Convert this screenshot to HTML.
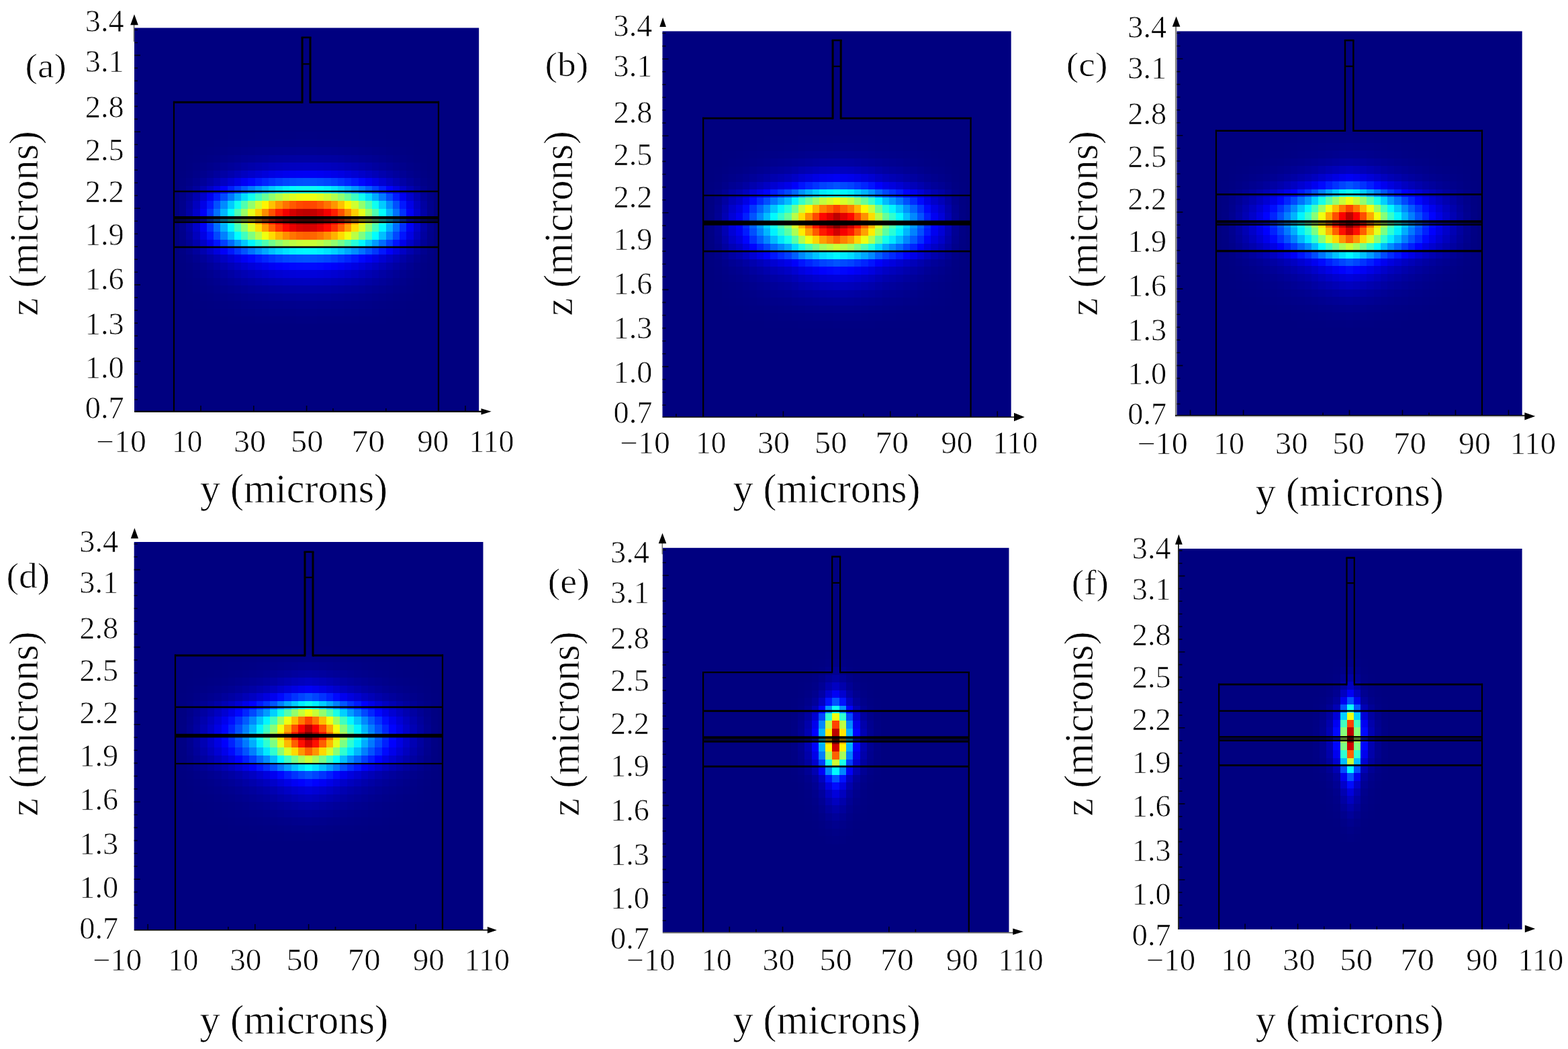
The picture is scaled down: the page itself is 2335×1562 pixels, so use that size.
<!DOCTYPE html>
<html><head><meta charset="utf-8"><title>Mode profiles</title>
<style>
html,body{margin:0;padding:0;background:#fff;width:2335px;height:1562px;overflow:hidden}
svg{display:block}
.t{font-family:"Liberation Serif","Times New Roman",serif;fill:#000;stroke:#fff;stroke-width:0.7px;paint-order:normal}
</style></head><body>
<svg width="2335" height="1562" viewBox="0 0 2335 1562">
<rect width="2335" height="1562" fill="#fff"/>
<g id="pa">
<rect x="200.00" y="41.50" width="513.20" height="571.00" fill="#000080"/>
<clipPath id="ca"><rect x="200.00" y="41.50" width="513.20" height="571.00"/></clipPath>
<g clip-path="url(#ca)"><path fill="#000081" d="M339 196h41v12h-41zM534 196h41v12h-41zM298 208h20v11h-20zM595 208h21v11h-21zM287 219h11v12h-11zM616 219h10v12h-10zM277 231h10v11h-10zM626 231h10v11h-10zM267 254h10v11h-10zM636 254h10v11h-10zM256 288h11v11h-11zM646 288h11v11h-11zM256 299h11v12h-11zM646 299h11v12h-11zM256 311h11v11h-11zM646 311h11v11h-11zM256 322h11v12h-11zM646 322h11v12h-11zM256 334h11v11h-11zM646 334h11v11h-11zM256 345h11v12h-11zM646 345h11v12h-11zM267 402h10v12h-10zM636 402h10v12h-10zM277 425h10v12h-10zM626 425h10v12h-10zM277 437h21v11h-21zM616 437h20v11h-20zM287 448h21v12h-21zM605 448h21v12h-21zM308 460h20v11h-20zM585 460h20v11h-20zM339 471h41v11h-41zM534 471h41v11h-41z"/>
<path fill="#000082" d="M380 196h61v12h-61zM472 196h62v12h-62zM318 208h21v11h-21zM575 208h20v11h-20zM298 219h10v12h-10zM605 219h11v12h-11zM287 231h11v11h-11zM616 231h10v11h-10zM277 242h10v12h-10zM626 242h10v12h-10zM267 391h10v11h-10zM636 391h10v11h-10zM277 414h10v11h-10zM626 414h10v11h-10zM308 448h10v12h-10zM595 448h10v12h-10zM328 460h21v11h-21zM564 460h21v11h-21zM380 471h61v11h-61zM472 471h62v11h-62z"/>
<path fill="#000083" d="M441 196h31v12h-31zM339 208h20v11h-20zM554 208h21v11h-21zM308 219h10v12h-10zM595 219h10v12h-10zM267 265h10v12h-10zM636 265h10v12h-10zM267 379h10v12h-10zM636 379h10v12h-10zM277 402h10v12h-10zM626 402h10v12h-10zM287 425h11v12h-11zM616 425h10v12h-10zM298 437h10v11h-10zM605 437h11v11h-11zM318 448h10v12h-10zM585 448h10v12h-10zM349 460h10v11h-10zM554 460h10v11h-10zM441 471h31v11h-31z"/>
<path fill="#000084" d="M359 208h10v11h-10zM544 208h10v11h-10zM318 219h10v12h-10zM585 219h10v12h-10zM298 231h10v11h-10zM605 231h11v11h-11zM277 254h10v11h-10zM626 254h10v11h-10zM287 414h11v11h-11zM616 414h10v11h-10zM308 437h10v11h-10zM595 437h10v11h-10zM328 448h11v12h-11zM575 448h10v12h-10zM359 460h21v11h-21zM534 460h20v11h-20z"/>
<path fill="#000085" d="M369 208h21v11h-21zM523 208h21v11h-21zM328 219h11v12h-11zM575 219h10v12h-10zM287 242h11v12h-11zM616 242h10v12h-10zM267 277h10v11h-10zM636 277h10v11h-10zM267 368h10v11h-10zM636 368h10v11h-10zM277 391h10v11h-10zM626 391h10v11h-10zM298 425h10v12h-10zM605 425h11v12h-11zM339 448h10v12h-10zM564 448h11v12h-11zM380 460h20v11h-20zM513 460h21v11h-21z"/>
<path fill="#000086" d="M390 208h20v11h-20zM503 208h20v11h-20zM308 231h10v11h-10zM595 231h10v11h-10zM318 437h10v11h-10zM585 437h10v11h-10zM349 448h10v12h-10zM554 448h10v12h-10zM400 460h41v11h-41zM472 460h41v11h-41z"/>
<path fill="#000087" d="M410 208h31v11h-31zM472 208h31v11h-31zM339 219h10v12h-10zM564 219h11v12h-11zM287 402h11v12h-11zM616 402h10v12h-10zM298 414h10v11h-10zM605 414h11v11h-11zM308 425h10v12h-10zM595 425h10v12h-10zM441 460h31v11h-31z"/>
<path fill="#000088" d="M441 208h31v11h-31zM349 219h10v12h-10zM554 219h10v12h-10zM318 231h10v11h-10zM585 231h10v11h-10zM298 242h10v12h-10zM605 242h11v12h-11zM277 265h10v12h-10zM626 265h10v12h-10zM267 357h10v11h-10zM636 357h10v11h-10zM277 379h10v12h-10zM626 379h10v12h-10zM328 437h11v11h-11zM575 437h10v11h-10zM359 448h10v12h-10zM544 448h10v12h-10z"/>
<path fill="#00008a" d="M359 219h10v12h-10zM544 219h10v12h-10zM287 391h11v11h-11zM616 391h10v11h-10zM318 425h10v12h-10zM585 425h10v12h-10zM339 437h10v11h-10zM564 437h11v11h-11zM380 448h10v12h-10zM523 448h11v12h-11z"/>
<path fill="#00008b" d="M369 219h11v12h-11zM534 219h10v12h-10zM328 231h11v11h-11zM575 231h10v11h-10zM267 345h10v12h-10zM636 345h10v12h-10zM298 402h10v12h-10zM605 402h11v12h-11zM308 414h10v11h-10zM595 414h10v11h-10zM390 448h10v12h-10zM513 448h10v12h-10z"/>
<path fill="#00008d" d="M380 219h10v12h-10zM523 219h11v12h-11zM267 311h10v11h-10zM636 311h10v11h-10zM267 334h10v11h-10zM636 334h10v11h-10zM328 425h11v12h-11zM575 425h10v12h-10zM421 448h20v12h-20zM472 448h21v12h-21z"/>
<path fill="#00008e" d="M390 219h10v12h-10zM513 219h10v12h-10zM339 231h10v11h-10zM564 231h11v11h-11zM298 254h10v11h-10zM605 254h11v11h-11zM267 322h10v12h-10zM636 322h10v12h-10zM359 437h10v11h-10zM544 437h10v11h-10zM441 448h31v12h-31z"/>
<path fill="#00008f" d="M400 219h10v12h-10zM503 219h10v12h-10zM277 277h10v11h-10zM626 277h10v11h-10zM277 368h10v11h-10zM626 368h10v11h-10zM318 414h10v11h-10zM585 414h10v11h-10z"/>
<path fill="#000090" d="M410 219h11v12h-11zM493 219h10v12h-10zM318 242h10v12h-10zM585 242h10v12h-10zM287 265h11v12h-11zM616 265h10v12h-10zM287 379h11v12h-11zM616 379h10v12h-10zM308 402h10v12h-10zM595 402h10v12h-10zM339 425h10v12h-10zM564 425h11v12h-11zM369 437h11v11h-11zM534 437h10v11h-10z"/>
<path fill="#000091" d="M421 219h20v12h-20zM472 219h21v12h-21zM349 231h10v11h-10zM554 231h10v11h-10zM298 391h10v11h-10zM605 391h11v11h-11z"/>
<path fill="#000092" d="M441 219h31v12h-31zM380 437h10v11h-10zM523 437h11v11h-11z"/>
<path fill="#000094" d="M359 231h10v11h-10zM544 231h10v11h-10zM328 414h11v11h-11zM575 414h10v11h-10z"/>
<path fill="#000096" d="M369 231h11v11h-11zM534 231h10v11h-10zM318 402h10v12h-10zM585 402h10v12h-10zM359 425h10v12h-10zM544 425h10v12h-10zM410 437h11v11h-11zM493 437h10v11h-10z"/>
<path fill="#000099" d="M380 231h10v11h-10zM523 231h11v11h-11zM308 391h10v11h-10zM595 391h10v11h-10zM339 414h10v11h-10zM564 414h11v11h-11zM441 437h31v11h-31z"/>
<path fill="#00009b" d="M390 231h10v11h-10zM513 231h10v11h-10z"/>
<path fill="#00009e" d="M400 231h10v11h-10zM503 231h10v11h-10zM287 277h11v11h-11zM616 277h10v11h-10zM349 414h10v11h-10zM554 414h10v11h-10z"/>
<path fill="#0000a0" d="M410 231h11v11h-11zM493 231h10v11h-10z"/>
<path fill="#0000a1" d="M421 231h10v11h-10zM482 231h11v11h-11zM277 299h10v12h-10zM626 299h10v12h-10z"/>
<path fill="#0000a2" d="M431 231h10v11h-10zM472 231h10v11h-10zM318 391h10v11h-10zM585 391h10v11h-10zM400 425h10v12h-10zM503 425h10v12h-10z"/>
<path fill="#0000a3" d="M441 231h31v11h-31zM359 414h10v11h-10zM544 414h10v11h-10z"/>
<path fill="#00008c" d="M308 242h10v12h-10zM595 242h10v12h-10zM267 299h10v12h-10zM636 299h10v12h-10zM349 437h10v11h-10zM554 437h10v11h-10zM400 448h21v12h-21zM493 448h20v12h-20z"/>
<path fill="#000095" d="M328 242h11v12h-11zM575 242h10v12h-10zM308 254h10v11h-10zM595 254h10v11h-10zM400 437h10v11h-10zM503 437h10v11h-10z"/>
<path fill="#00009a" d="M339 242h10v12h-10zM564 242h11v12h-11zM298 265h10v12h-10zM605 265h11v12h-11zM298 379h10v12h-10zM605 379h11v12h-11zM369 425h11v12h-11zM534 425h10v12h-10z"/>
<path fill="#00009f" d="M349 242h10v12h-10zM554 242h10v12h-10zM277 345h10v12h-10zM626 345h10v12h-10zM390 425h10v12h-10zM513 425h10v12h-10z"/>
<path fill="#0000a5" d="M359 242h10v12h-10zM544 242h10v12h-10zM328 254h11v11h-11zM575 254h10v11h-10zM277 334h10v11h-10zM626 334h10v11h-10z"/>
<path fill="#0000aa" d="M369 242h11v12h-11zM534 242h10v12h-10z"/>
<path fill="#0000af" d="M380 242h10v12h-10zM523 242h11v12h-11zM298 368h10v11h-10zM605 368h11v11h-11z"/>
<path fill="#0000b3" d="M390 242h10v12h-10zM513 242h10v12h-10zM359 402h10v12h-10zM544 402h10v12h-10z"/>
<path fill="#0000b8" d="M400 242h10v12h-10zM503 242h10v12h-10zM349 254h10v11h-10zM554 254h10v11h-10zM410 414h11v11h-11zM493 414h10v11h-10z"/>
<path fill="#0000bb" d="M410 242h11v12h-11zM493 242h10v12h-10zM421 414h10v11h-10zM482 414h11v11h-11z"/>
<path fill="#0000be" d="M421 242h10v12h-10zM482 242h11v12h-11zM441 414h10v11h-10zM462 414h10v11h-10z"/>
<path fill="#0000c0" d="M431 242h10v12h-10zM472 242h10v12h-10z"/>
<path fill="#0000c1" d="M441 242h10v12h-10zM462 242h10v12h-10zM359 254h10v11h-10zM544 254h10v11h-10zM380 402h10v12h-10zM523 402h11v12h-11z"/>
<path fill="#0000c2" d="M451 242h11v12h-11zM349 391h10v11h-10zM554 391h10v11h-10z"/>
<path fill="#000089" d="M287 254h11v11h-11zM616 254h10v11h-10zM267 288h10v11h-10zM636 288h10v11h-10zM369 448h11v12h-11zM534 448h10v12h-10z"/>
<path fill="#00009d" d="M318 254h10v11h-10zM585 254h10v11h-10zM287 368h11v11h-11zM616 368h10v11h-10zM328 402h11v12h-11zM575 402h10v12h-10zM380 425h10v12h-10zM523 425h11v12h-11z"/>
<path fill="#0000ae" d="M339 254h10v11h-10zM564 254h11v11h-11z"/>
<path fill="#0000ca" d="M369 254h11v11h-11zM534 254h10v11h-10zM287 311h11v11h-11zM616 311h10v11h-10z"/>
<path fill="#0000d3" d="M380 254h10v11h-10zM523 254h11v11h-11zM339 265h10v12h-10zM564 265h11v12h-11zM339 379h10v12h-10zM564 379h11v12h-11z"/>
<path fill="#0000db" d="M390 254h10v11h-10zM513 254h10v11h-10zM441 402h31v12h-31z"/>
<path fill="#0000e3" d="M400 254h10v11h-10zM503 254h10v11h-10z"/>
<path fill="#0000e9" d="M410 254h11v11h-11zM493 254h10v11h-10z"/>
<path fill="#0000ee" d="M421 254h10v11h-10zM482 254h11v11h-11z"/>
<path fill="#0000f2" d="M431 254h10v11h-10zM472 254h10v11h-10zM308 288h10v11h-10zM595 288h10v11h-10z"/>
<path fill="#0000f4" d="M441 254h10v11h-10zM462 254h10v11h-10zM400 391h10v11h-10zM503 391h10v11h-10z"/>
<path fill="#0000f5" d="M451 254h11v11h-11zM359 265h10v12h-10zM544 265h10v12h-10zM298 334h10v11h-10zM605 334h11v11h-11zM359 379h10v12h-10zM544 379h10v12h-10z"/>
<path fill="#0000a6" d="M308 265h10v12h-10zM595 265h10v12h-10zM277 311h10v11h-10zM626 311h10v11h-10zM308 379h10v12h-10zM595 379h10v12h-10zM421 425h10v12h-10zM482 425h11v12h-11z"/>
<path fill="#0000b4" d="M318 265h10v12h-10zM585 265h10v12h-10zM318 379h10v12h-10zM585 379h10v12h-10z"/>
<path fill="#0000c3" d="M328 265h11v12h-11zM575 265h10v12h-10zM328 379h11v12h-11zM575 379h10v12h-10z"/>
<path fill="#0000e4" d="M349 265h10v12h-10zM554 265h10v12h-10zM298 345h10v12h-10zM605 345h11v12h-11zM349 379h10v12h-10zM554 379h10v12h-10z"/>
<path fill="#0006ff" d="M369 265h11v12h-11zM534 265h10v12h-10zM369 379h11v12h-11zM534 379h10v12h-10z"/>
<path fill="#0016ff" d="M380 265h10v12h-10zM523 265h11v12h-11zM380 379h10v12h-10zM523 379h11v12h-11z"/>
<path fill="#0024ff" d="M390 265h10v12h-10zM513 265h10v12h-10zM390 379h10v12h-10zM513 379h10v12h-10z"/>
<path fill="#0031ff" d="M400 265h10v12h-10zM503 265h10v12h-10zM308 311h10v11h-10zM595 311h10v11h-10zM400 379h10v12h-10zM503 379h10v12h-10z"/>
<path fill="#003dff" d="M410 265h11v12h-11zM493 265h10v12h-10zM349 277h10v11h-10zM554 277h10v11h-10zM410 379h11v12h-11zM493 379h10v12h-10z"/>
<path fill="#0046ff" d="M421 265h10v12h-10zM482 265h11v12h-11zM421 379h10v12h-10zM482 379h11v12h-11z"/>
<path fill="#004cff" d="M431 265h10v12h-10zM472 265h10v12h-10zM431 379h10v12h-10zM472 379h10v12h-10z"/>
<path fill="#0050ff" d="M441 265h10v12h-10zM462 265h10v12h-10zM441 379h10v12h-10zM462 379h10v12h-10z"/>
<path fill="#0052ff" d="M451 265h11v12h-11zM451 379h11v12h-11z"/>
<path fill="#0000b1" d="M298 277h10v11h-10zM605 277h11v11h-11zM390 414h10v11h-10zM513 414h10v11h-10z"/>
<path fill="#0000c8" d="M308 277h10v11h-10zM595 277h10v11h-10zM287 334h11v11h-11zM616 334h10v11h-10z"/>
<path fill="#0000e2" d="M318 277h10v11h-10zM585 277h10v11h-10zM380 391h10v11h-10zM523 391h11v11h-11z"/>
<path fill="#0000fe" d="M328 277h11v11h-11zM575 277h10v11h-10z"/>
<path fill="#001eff" d="M339 277h10v11h-10zM564 277h11v11h-11z"/>
<path fill="#005dff" d="M359 277h10v11h-10zM544 277h10v11h-10z"/>
<path fill="#007bff" d="M369 277h11v11h-11zM534 277h10v11h-10z"/>
<path fill="#0099ff" d="M380 277h10v11h-10zM523 277h11v11h-11z"/>
<path fill="#00b4ff" d="M390 277h10v11h-10zM513 277h10v11h-10z"/>
<path fill="#00cdff" d="M400 277h10v11h-10zM503 277h10v11h-10z"/>
<path fill="#00e2ff" d="M410 277h11v11h-11zM493 277h10v11h-10z"/>
<path fill="#00f3ff" d="M421 277h10v11h-10zM482 277h11v11h-11z"/>
<path fill="#00ffff" d="M431 277h10v11h-10zM472 277h10v11h-10z"/>
<path fill="#08fff7" d="M441 277h10v11h-10zM462 277h10v11h-10z"/>
<path fill="#0afff5" d="M451 277h11v11h-11z"/>
<path fill="#000098" d="M277 288h10v11h-10zM626 288h10v11h-10zM421 437h20v11h-20zM472 437h21v11h-21z"/>
<path fill="#0000b0" d="M287 288h11v11h-11zM616 288h10v11h-10z"/>
<path fill="#0000ce" d="M298 288h10v11h-10zM605 288h11v11h-11zM287 322h11v12h-11zM616 322h10v12h-10z"/>
<path fill="#001cff" d="M318 288h10v11h-10zM585 288h10v11h-10z"/>
<path fill="#0049ff" d="M328 288h11v11h-11zM575 288h10v11h-10z"/>
<path fill="#0079ff" d="M339 288h10v11h-10zM564 288h11v11h-11z"/>
<path fill="#00abff" d="M349 288h10v11h-10zM554 288h10v11h-10z"/>
<path fill="#00ddff" d="M359 288h10v11h-10zM544 288h10v11h-10z"/>
<path fill="#0ffff0" d="M369 288h11v11h-11zM534 288h10v11h-10z"/>
<path fill="#3effc1" d="M380 288h10v11h-10zM523 288h11v11h-11z"/>
<path fill="#69ff96" d="M390 288h10v11h-10zM513 288h10v11h-10z"/>
<path fill="#90ff6f" d="M400 288h10v11h-10zM503 288h10v11h-10z"/>
<path fill="#b1ff4e" d="M410 288h11v11h-11zM493 288h10v11h-10z"/>
<path fill="#ccff33" d="M421 288h10v11h-10zM482 288h11v11h-11zM451 357h11v11h-11z"/>
<path fill="#e0ff1f" d="M431 288h10v11h-10zM472 288h10v11h-10z"/>
<path fill="#ecff13" d="M441 288h10v11h-10zM462 288h10v11h-10z"/>
<path fill="#f0ff0f" d="M451 288h11v11h-11z"/>
<path fill="#0000bf" d="M287 299h11v12h-11zM616 299h10v12h-10zM451 414h11v11h-11z"/>
<path fill="#0000e7" d="M298 299h10v12h-10zM605 299h11v12h-11z"/>
<path fill="#0018ff" d="M308 299h10v12h-10zM595 299h10v12h-10z"/>
<path fill="#004fff" d="M318 299h10v12h-10zM585 299h10v12h-10z"/>
<path fill="#008bff" d="M328 299h11v12h-11zM575 299h10v12h-10z"/>
<path fill="#00cbff" d="M339 299h10v12h-10zM564 299h11v12h-11z"/>
<path fill="#0efff1" d="M349 299h10v12h-10zM554 299h10v12h-10z"/>
<path fill="#50ffaf" d="M359 299h10v12h-10zM544 299h10v12h-10z"/>
<path fill="#92ff6d" d="M369 299h11v12h-11zM534 299h10v12h-10z"/>
<path fill="#d0ff2f" d="M380 299h10v12h-10zM523 299h11v12h-11z"/>
<path fill="#fff500" d="M390 299h10v12h-10zM513 299h10v12h-10z"/>
<path fill="#ffc100" d="M400 299h10v12h-10zM503 299h10v12h-10z"/>
<path fill="#ff9500" d="M410 299h11v12h-11zM493 299h10v12h-10z"/>
<path fill="#ff7200" d="M421 299h10v12h-10zM482 299h11v12h-11z"/>
<path fill="#ff5800" d="M431 299h10v12h-10zM472 299h10v12h-10z"/>
<path fill="#ff4800" d="M441 299h10v12h-10zM462 299h10v12h-10z"/>
<path fill="#ff4200" d="M451 299h11v12h-11z"/>
<path fill="#0000f8" d="M298 311h10v11h-10zM605 311h11v11h-11z"/>
<path fill="#0070ff" d="M318 311h10v11h-10zM585 311h10v11h-10z"/>
<path fill="#00b6ff" d="M328 311h11v11h-11zM575 311h10v11h-10z"/>
<path fill="#01fffe" d="M339 311h10v11h-10zM564 311h11v11h-11z"/>
<path fill="#4effb1" d="M349 311h10v11h-10zM554 311h10v11h-10z"/>
<path fill="#9bff64" d="M359 311h10v11h-10zM544 311h10v11h-10z"/>
<path fill="#e6ff19" d="M369 311h11v11h-11zM534 311h10v11h-10z"/>
<path fill="#ffd000" d="M380 311h10v11h-10zM523 311h11v11h-11z"/>
<path fill="#ff8d00" d="M390 311h10v11h-10zM513 311h10v11h-10z"/>
<path fill="#ff5100" d="M400 311h10v11h-10zM503 311h10v11h-10z"/>
<path fill="#ff1e00" d="M410 311h11v11h-11zM493 311h10v11h-10z"/>
<path fill="#f40000" d="M421 311h10v11h-10zM482 311h11v11h-11z"/>
<path fill="#d50000" d="M431 311h10v11h-10zM472 311h10v11h-10z"/>
<path fill="#c30000" d="M441 311h10v11h-10zM462 311h10v11h-10z"/>
<path fill="#bd0000" d="M451 311h11v11h-11z"/>
<path fill="#0000a8" d="M277 322h10v12h-10zM626 322h10v12h-10zM369 414h11v11h-11zM534 414h10v11h-10zM441 425h31v12h-31z"/>
<path fill="#0001ff" d="M298 322h10v12h-10zM605 322h11v12h-11z"/>
<path fill="#003cff" d="M308 322h10v12h-10zM595 322h10v12h-10z"/>
<path fill="#007fff" d="M318 322h10v12h-10zM585 322h10v12h-10z"/>
<path fill="#00caff" d="M328 322h11v12h-11zM575 322h10v12h-10z"/>
<path fill="#19ffe6" d="M339 322h10v12h-10zM564 322h11v12h-11z"/>
<path fill="#6bff94" d="M349 322h10v12h-10zM554 322h10v12h-10z"/>
<path fill="#bdff42" d="M359 322h10v12h-10zM544 322h10v12h-10zM431 357h10v11h-10zM472 357h10v11h-10z"/>
<path fill="#fff100" d="M369 322h11v12h-11zM534 322h10v12h-10z"/>
<path fill="#ffa400" d="M380 322h10v12h-10zM523 322h11v12h-11z"/>
<path fill="#ff5d00" d="M390 322h10v12h-10zM513 322h10v12h-10z"/>
<path fill="#ff1d00" d="M400 322h10v12h-10zM503 322h10v12h-10z"/>
<path fill="#e60000" d="M410 322h11v12h-11zM493 322h10v12h-10z"/>
<path fill="#ba0000" d="M421 322h10v12h-10zM482 322h11v12h-11z"/>
<path fill="#9a0000" d="M431 322h10v12h-10zM472 322h10v12h-10z"/>
<path fill="#860000" d="M441 322h10v12h-10zM462 322h10v12h-10z"/>
<path fill="#800000" d="M451 322h11v12h-11z"/>
<path fill="#002dff" d="M308 334h10v11h-10zM595 334h10v11h-10z"/>
<path fill="#006bff" d="M318 334h10v11h-10zM585 334h10v11h-10zM339 357h10v11h-10zM564 357h11v11h-11z"/>
<path fill="#00afff" d="M328 334h11v11h-11zM575 334h10v11h-10z"/>
<path fill="#00f8ff" d="M339 334h10v11h-10zM564 334h11v11h-11z"/>
<path fill="#44ffbb" d="M349 334h10v11h-10zM554 334h10v11h-10z"/>
<path fill="#8fff70" d="M359 334h10v11h-10zM544 334h10v11h-10z"/>
<path fill="#d9ff26" d="M369 334h11v11h-11zM534 334h10v11h-10z"/>
<path fill="#ffde00" d="M380 334h10v11h-10zM523 334h11v11h-11z"/>
<path fill="#ff9d00" d="M390 334h10v11h-10zM513 334h10v11h-10z"/>
<path fill="#ff6200" d="M400 334h10v11h-10zM503 334h10v11h-10z"/>
<path fill="#ff3000" d="M410 334h11v11h-11zM493 334h10v11h-10z"/>
<path fill="#ff0800" d="M421 334h10v11h-10zM482 334h11v11h-11z"/>
<path fill="#e90000" d="M431 334h10v11h-10zM472 334h10v11h-10z"/>
<path fill="#d70000" d="M441 334h10v11h-10zM462 334h10v11h-10z"/>
<path fill="#d10000" d="M451 334h11v11h-11z"/>
<path fill="#0000bd" d="M287 345h11v12h-11zM616 345h10v12h-10zM431 414h10v11h-10zM472 414h10v11h-10z"/>
<path fill="#0013ff" d="M308 345h10v12h-10zM595 345h10v12h-10zM318 357h10v11h-10zM585 357h10v11h-10z"/>
<path fill="#0047ff" d="M318 345h10v12h-10zM585 345h10v12h-10z"/>
<path fill="#0081ff" d="M328 345h11v12h-11zM575 345h10v12h-10z"/>
<path fill="#00bfff" d="M339 345h10v12h-10zM564 345h11v12h-11z"/>
<path fill="#00feff" d="M349 345h10v12h-10zM554 345h10v12h-10z"/>
<path fill="#3fffc0" d="M359 345h10v12h-10zM544 345h10v12h-10z"/>
<path fill="#7eff81" d="M369 345h11v12h-11zM534 345h10v12h-10z"/>
<path fill="#baff45" d="M380 345h10v12h-10zM523 345h11v12h-11z"/>
<path fill="#f1ff0e" d="M390 345h10v12h-10zM513 345h10v12h-10z"/>
<path fill="#ffdb00" d="M400 345h10v12h-10zM503 345h10v12h-10z"/>
<path fill="#ffb100" d="M410 345h11v12h-11zM493 345h10v12h-10z"/>
<path fill="#ff8e00" d="M421 345h10v12h-10zM482 345h11v12h-11z"/>
<path fill="#ff7500" d="M431 345h10v12h-10zM472 345h10v12h-10z"/>
<path fill="#ff6600" d="M441 345h10v12h-10zM462 345h10v12h-10z"/>
<path fill="#ff6100" d="M451 345h11v12h-11z"/>
<path fill="#000097" d="M277 357h10v11h-10zM626 357h10v11h-10z"/>
<path fill="#0000ad" d="M287 357h11v11h-11zM616 357h10v11h-10zM380 414h10v11h-10zM523 414h11v11h-11z"/>
<path fill="#0000c9" d="M298 357h10v11h-10zM605 357h11v11h-11z"/>
<path fill="#0000eb" d="M308 357h10v11h-10zM595 357h10v11h-10zM390 391h10v11h-10zM513 391h10v11h-10z"/>
<path fill="#003eff" d="M328 357h11v11h-11zM575 357h10v11h-10z"/>
<path fill="#009aff" d="M349 357h10v11h-10zM554 357h10v11h-10z"/>
<path fill="#00c9ff" d="M359 357h10v11h-10zM544 357h10v11h-10z"/>
<path fill="#00f7ff" d="M369 357h11v11h-11zM534 357h10v11h-10zM441 368h10v11h-10zM462 368h10v11h-10z"/>
<path fill="#24ffdb" d="M380 357h10v11h-10zM523 357h11v11h-11z"/>
<path fill="#4dffb2" d="M390 357h10v11h-10zM513 357h10v11h-10z"/>
<path fill="#72ff8d" d="M400 357h10v11h-10zM503 357h10v11h-10z"/>
<path fill="#91ff6e" d="M410 357h11v11h-11zM493 357h10v11h-10z"/>
<path fill="#aaff55" d="M421 357h10v11h-10zM482 357h11v11h-11z"/>
<path fill="#c8ff37" d="M441 357h10v11h-10zM462 357h10v11h-10z"/>
<path fill="#0000c5" d="M308 368h10v11h-10zM595 368h10v11h-10z"/>
<path fill="#0000de" d="M318 368h10v11h-10zM585 368h10v11h-10z"/>
<path fill="#0000f9" d="M328 368h11v11h-11zM575 368h10v11h-10z"/>
<path fill="#0017ff" d="M339 368h10v11h-10zM564 368h11v11h-11z"/>
<path fill="#0036ff" d="M349 368h10v11h-10zM554 368h10v11h-10z"/>
<path fill="#0054ff" d="M359 368h10v11h-10zM544 368h10v11h-10z"/>
<path fill="#0072ff" d="M369 368h11v11h-11zM534 368h10v11h-10z"/>
<path fill="#008eff" d="M380 368h10v11h-10zM523 368h11v11h-11z"/>
<path fill="#00a8ff" d="M390 368h10v11h-10zM513 368h10v11h-10z"/>
<path fill="#00c0ff" d="M400 368h10v11h-10zM503 368h10v11h-10z"/>
<path fill="#00d4ff" d="M410 368h11v11h-11zM493 368h10v11h-10z"/>
<path fill="#00e4ff" d="M421 368h10v11h-10zM482 368h11v11h-11z"/>
<path fill="#00f0ff" d="M431 368h10v11h-10zM472 368h10v11h-10z"/>
<path fill="#00faff" d="M451 368h11v11h-11z"/>
<path fill="#0000ac" d="M328 391h11v11h-11zM575 391h10v11h-10zM349 402h10v12h-10zM554 402h10v12h-10z"/>
<path fill="#0000b7" d="M339 391h10v11h-10zM564 391h11v11h-11z"/>
<path fill="#0000cd" d="M359 391h10v11h-10zM544 391h10v11h-10zM400 402h10v12h-10zM503 402h10v12h-10z"/>
<path fill="#0000d8" d="M369 391h11v11h-11zM534 391h10v11h-10z"/>
<path fill="#0000fb" d="M410 391h11v11h-11zM493 391h10v11h-10z"/>
<path fill="#0002ff" d="M421 391h10v11h-10zM482 391h11v11h-11z"/>
<path fill="#0007ff" d="M431 391h10v11h-10zM472 391h10v11h-10z"/>
<path fill="#0009ff" d="M441 391h10v11h-10zM462 391h10v11h-10z"/>
<path fill="#000aff" d="M451 391h11v11h-11z"/>
<path fill="#0000a4" d="M339 402h10v12h-10zM564 402h11v12h-11zM410 425h11v12h-11zM493 425h10v12h-10z"/>
<path fill="#0000ba" d="M369 402h11v12h-11zM534 402h10v12h-10z"/>
<path fill="#0000c7" d="M390 402h10v12h-10zM513 402h10v12h-10z"/>
<path fill="#0000d2" d="M410 402h11v12h-11zM493 402h10v12h-10z"/>
<path fill="#0000d6" d="M421 402h10v12h-10zM482 402h11v12h-11z"/>
<path fill="#0000d9" d="M431 402h10v12h-10zM472 402h10v12h-10z"/>
<path fill="#0000b5" d="M400 414h10v11h-10zM503 414h10v11h-10z"/>
<path fill="#000093" d="M349 425h10v12h-10zM554 425h10v12h-10zM390 437h10v11h-10zM513 437h10v11h-10z"/>
<path fill="#0000a7" d="M431 425h10v12h-10zM472 425h10v12h-10z"/></g>
<path d="M200.0 44.5h5M200.0 63.5h5M200.0 82.4h9M200.0 101.4h5M200.0 120.4h5M200.0 139.4h5M200.0 158.4h5M200.0 177.4h5M200.0 196.3h9M200.0 215.3h5M200.0 234.3h5M200.0 253.3h5M200.0 272.3h5M200.0 291.3h5M200.0 310.2h9M200.0 329.2h5M200.0 348.2h5M200.0 367.2h5M200.0 386.2h5M200.0 405.2h5M200.0 424.1h9M200.0 443.1h5M200.0 462.1h5M200.0 481.1h5M200.0 500.1h5M200.0 519.1h5M200.0 538.0h9M200.0 557.0h5M200.0 576.0h5M200.0 595.0h5M299.0 612.5v-8.5M377.8 612.5v-8.5M456.6 612.5v-8.5M693.0 612.5v-8.5M496.0 612.5v-4.5M574.8 612.5v-4.5" stroke="#000018" stroke-width="1.6" fill="none"/>
<path d="M259.00 612.50V150.70M653.00 612.50V150.70" stroke="#000" stroke-width="2.20" fill="none"/>
<path d="M257.90 152.20H450.10M462.00 152.20H654.10" stroke="#000" stroke-width="3.00" fill="none"/>
<path d="M448.60 55.80H463.50" stroke="#000" stroke-width="2.60" fill="none"/>
<path d="M450.10 95.30H462.00" stroke="#000" stroke-width="2.20" fill="none"/>
<path d="M450.10 153.70V55.80M462.00 153.70V55.80" stroke="#000" stroke-width="3.00" fill="none"/>
<rect x="259.00" y="283.80" width="394.00" height="2.40" fill="#000"/>
<rect x="259.00" y="322.00" width="394.00" height="4.00" fill="#000"/>
<rect x="259.00" y="329.90" width="394.00" height="2.20" fill="#000"/>
<rect x="259.00" y="366.70" width="394.00" height="2.60" fill="#000"/>
<rect x="259.00" y="326.00" width="394.00" height="4.00" fill="#000" fill-opacity="0.55"/>
<rect x="198.80" y="36.00" width="1.60" height="26.00" fill="#666"/>
<rect x="200.00" y="611.70" width="517.00" height="2.20" fill="#000"/>
<path d="M200.00 21.20L205.80 37.30L194.20 37.30z" fill="#000"/>
<path d="M731.70 612.80L716.50 608.20L716.50 617.40z" fill="#000"/>
<text class="t" x="184.70" y="46.80" font-size="46.35" text-anchor="end">3.4</text>
<text class="t" x="184.70" y="106.80" font-size="46.35" text-anchor="end">3.1</text>
<text class="t" x="184.70" y="175.00" font-size="46.35" text-anchor="end">2.8</text>
<text class="t" x="184.70" y="238.50" font-size="46.35" text-anchor="end">2.5</text>
<text class="t" x="184.70" y="301.30" font-size="46.35" text-anchor="end">2.2</text>
<text class="t" x="184.70" y="365.10" font-size="46.35" text-anchor="end">1.9</text>
<text class="t" x="184.70" y="431.10" font-size="46.35" text-anchor="end">1.6</text>
<text class="t" x="184.70" y="497.50" font-size="46.35" text-anchor="end">1.3</text>
<text class="t" x="184.70" y="562.80" font-size="46.35" text-anchor="end">1.0</text>
<text class="t" x="184.70" y="622.70" font-size="46.35" text-anchor="end">0.7</text>
<text class="t" transform="translate(143.11 673.14) scale(1.0327 1)" font-size="46.35">−10</text>
<text class="t" transform="translate(256.03 673.14) scale(0.9814 1)" font-size="46.35">10</text>
<text class="t" transform="translate(347.99 673.14) scale(1.0384 1)" font-size="46.35">30</text>
<text class="t" transform="translate(433.10 673.14) scale(1.0428 1)" font-size="46.35">50</text>
<text class="t" transform="translate(523.46 673.14) scale(1.0751 1)" font-size="46.35">70</text>
<text class="t" transform="translate(621.29 673.14) scale(1.0161 1)" font-size="46.35">90</text>
<text class="t" transform="translate(698.29 673.14) scale(0.9918 1)" font-size="46.35">110</text>
<text class="t" transform="translate(297.90 748.31) scale(0.9819 1)" font-size="61.33">y (microns)</text>
<text class="t" transform="translate(56.03 470.50) rotate(-90) scale(0.9741 1)" font-size="61.78">z (microns)</text>
<text class="t" transform="translate(37.52 115.27) scale(1.0706 1)" font-size="51.56">(a)</text>
</g>
<g id="pb">
<rect x="986.50" y="46.50" width="519.20" height="574.30" fill="#000080"/>
<clipPath id="cb"><rect x="986.50" y="46.50" width="519.20" height="574.30"/></clipPath>
<g clip-path="url(#cb)"><path fill="#000081" d="M1137 202h52v11h-52zM1303 202h52v11h-52zM1106 213h21v12h-21zM1366 213h20v12h-20zM1075 225h21v11h-21zM1397 225h20v11h-20zM1075 236h10v12h-10zM1407 236h10v12h-10zM1064 248h11v11h-11zM1417 248h11v11h-11zM1054 271h10v11h-10zM1428 271h10v11h-10zM1054 386h10v11h-10zM1428 386h10v11h-10zM1064 420h11v12h-11zM1417 420h11v12h-11zM1075 443h10v12h-10zM1407 443h10v12h-10zM1085 455h21v11h-21zM1386 455h21v11h-21zM1106 466h31v12h-31zM1355 466h31v12h-31zM1137 478h52v11h-52zM1303 478h52v11h-52z"/>
<path fill="#000082" d="M1189 202h52v11h-52zM1251 202h52v11h-52zM1127 213h20v12h-20zM1345 213h21v12h-21zM1096 225h10v11h-10zM1386 225h11v11h-11zM1064 259h11v12h-11zM1417 259h11v12h-11zM1054 282h10v12h-10zM1428 282h10v12h-10zM1054 374h10v12h-10zM1428 374h10v12h-10zM1064 409h11v11h-11zM1417 409h11v11h-11zM1075 432h10v11h-10zM1407 432h10v11h-10zM1085 443h11v12h-11zM1397 443h10v12h-10zM1106 455h10v11h-10zM1376 455h10v11h-10zM1137 466h21v12h-21zM1334 466h21v12h-21zM1189 478h52v11h-52zM1251 478h52v11h-52z"/>
<path fill="#000083" d="M1241 202h10v11h-10zM1147 213h21v12h-21zM1324 213h21v12h-21zM1106 225h10v11h-10zM1376 225h10v11h-10zM1085 236h11v12h-11zM1397 236h10v12h-10zM1075 248h10v11h-10zM1407 248h10v11h-10zM1054 294h10v11h-10zM1428 294h10v11h-10zM1054 363h10v11h-10zM1428 363h10v11h-10zM1064 397h11v12h-11zM1417 397h11v12h-11zM1075 420h10v12h-10zM1407 420h10v12h-10zM1085 432h11v11h-11zM1397 432h10v11h-10zM1096 443h10v12h-10zM1386 443h11v12h-11zM1116 455h21v11h-21zM1355 455h21v11h-21zM1158 466h21v12h-21zM1314 466h20v12h-20zM1241 478h10v11h-10z"/>
<path fill="#000084" d="M1168 213h21v12h-21zM1303 213h21v12h-21zM1116 225h11v11h-11zM1366 225h10v11h-10zM1096 236h10v12h-10zM1386 236h11v12h-11zM1064 271h11v11h-11zM1417 271h11v11h-11zM1054 305h10v12h-10zM1428 305h10v12h-10zM1054 351h10v12h-10zM1428 351h10v12h-10zM1064 386h11v11h-11zM1417 386h11v11h-11zM1096 432h10v11h-10zM1386 432h11v11h-11zM1106 443h10v12h-10zM1376 443h10v12h-10zM1137 455h10v11h-10zM1345 455h10v11h-10zM1179 466h20v12h-20zM1293 466h21v12h-21z"/>
<path fill="#000085" d="M1189 213h10v12h-10zM1293 213h10v12h-10zM1127 225h10v11h-10zM1355 225h11v11h-11zM1106 236h10v12h-10zM1376 236h10v12h-10zM1054 317h10v11h-10zM1428 317h10v11h-10zM1054 340h10v11h-10zM1428 340h10v11h-10zM1075 409h10v11h-10zM1407 409h10v11h-10zM1085 420h11v12h-11zM1397 420h10v12h-10zM1116 443h11v12h-11zM1366 443h10v12h-10zM1147 455h11v11h-11zM1334 455h11v11h-11zM1199 466h11v12h-11zM1282 466h11v12h-11z"/>
<path fill="#000086" d="M1199 213h21v12h-21zM1272 213h21v12h-21zM1137 225h10v11h-10zM1345 225h10v11h-10zM1085 248h11v11h-11zM1397 248h10v11h-10zM1075 259h10v12h-10zM1407 259h10v12h-10zM1054 328h10v12h-10zM1428 328h10v12h-10zM1106 432h10v11h-10zM1376 432h10v11h-10zM1158 455h10v11h-10zM1324 455h10v11h-10zM1210 466h31v12h-31zM1251 466h31v12h-31z"/>
<path fill="#000087" d="M1220 213h21v12h-21zM1251 213h21v12h-21zM1147 225h11v11h-11zM1334 225h11v11h-11zM1116 236h11v12h-11zM1366 236h10v12h-10zM1096 248h10v11h-10zM1386 248h11v11h-11zM1075 397h10v12h-10zM1407 397h10v12h-10zM1096 420h10v12h-10zM1386 420h11v12h-11zM1127 443h10v12h-10zM1355 443h11v12h-11zM1168 455h11v11h-11zM1314 455h10v11h-10zM1241 466h10v12h-10z"/>
<path fill="#000088" d="M1241 213h10v12h-10zM1158 225h10v11h-10zM1324 225h10v11h-10zM1064 282h11v12h-11zM1417 282h11v12h-11zM1064 374h11v12h-11zM1417 374h11v12h-11zM1085 409h11v11h-11zM1397 409h10v11h-10zM1116 432h11v11h-11zM1366 432h10v11h-10zM1137 443h10v12h-10zM1345 443h10v12h-10zM1179 455h10v11h-10zM1303 455h11v11h-11z"/>
<path fill="#000089" d="M1168 225h11v11h-11zM1314 225h10v11h-10zM1127 236h10v12h-10zM1355 236h11v12h-11zM1189 455h10v11h-10zM1293 455h10v11h-10z"/>
<path fill="#00008a" d="M1179 225h10v11h-10zM1303 225h11v11h-11zM1106 248h10v11h-10zM1376 248h10v11h-10zM1085 259h11v12h-11zM1397 259h10v12h-10zM1106 420h10v12h-10zM1376 420h10v12h-10zM1147 443h11v12h-11zM1334 443h11v12h-11z"/>
<path fill="#00008c" d="M1189 225h10v11h-10zM1293 225h10v11h-10zM1064 363h11v11h-11zM1417 363h11v11h-11zM1085 397h11v12h-11zM1397 397h10v12h-10zM1168 443h11v12h-11zM1314 443h10v12h-10zM1210 455h10v11h-10zM1272 455h10v11h-10z"/>
<path fill="#00008e" d="M1199 225h11v11h-11zM1282 225h11v11h-11zM1147 236h11v12h-11zM1334 236h11v12h-11zM1116 248h11v11h-11zM1366 248h10v11h-10zM1096 259h10v12h-10zM1386 259h11v12h-11zM1241 455h10v11h-10z"/>
<path fill="#00008f" d="M1210 225h10v11h-10zM1272 225h10v11h-10zM1106 409h10v11h-10zM1376 409h10v11h-10zM1179 443h10v12h-10zM1303 443h11v12h-11z"/>
<path fill="#000090" d="M1220 225h11v11h-11zM1262 225h10v11h-10zM1158 236h10v12h-10zM1324 236h10v12h-10zM1096 397h10v12h-10zM1386 397h11v12h-11zM1147 432h11v11h-11zM1334 432h11v11h-11z"/>
<path fill="#000091" d="M1231 225h10v11h-10zM1251 225h11v11h-11zM1064 351h11v12h-11zM1417 351h11v12h-11zM1127 420h10v12h-10zM1355 420h11v12h-11zM1189 443h10v12h-10zM1293 443h10v12h-10z"/>
<path fill="#000092" d="M1241 225h10v11h-10zM1168 236h11v12h-11zM1314 236h10v12h-10zM1127 248h10v11h-10zM1355 248h11v11h-11zM1064 305h11v12h-11zM1417 305h11v12h-11zM1158 432h10v11h-10zM1324 432h10v11h-10z"/>
<path fill="#00008b" d="M1137 236h10v12h-10zM1345 236h10v12h-10zM1075 271h10v11h-10zM1407 271h10v11h-10zM1075 386h10v11h-10zM1407 386h10v11h-10zM1096 409h10v11h-10zM1386 409h11v11h-11zM1127 432h10v11h-10zM1355 432h11v11h-11zM1158 443h10v12h-10zM1324 443h10v12h-10zM1199 455h11v11h-11zM1282 455h11v11h-11z"/>
<path fill="#000095" d="M1179 236h10v12h-10zM1303 236h11v12h-11zM1137 248h10v11h-10zM1345 248h10v11h-10zM1075 282h10v12h-10zM1407 282h10v12h-10zM1064 317h11v11h-11zM1417 317h11v11h-11zM1210 443h10v12h-10zM1272 443h10v12h-10z"/>
<path fill="#000098" d="M1189 236h10v12h-10zM1293 236h10v12h-10zM1147 420h11v12h-11zM1334 420h11v12h-11zM1179 432h10v11h-10zM1303 432h11v11h-11zM1231 443h10v12h-10zM1251 443h11v12h-11z"/>
<path fill="#00009b" d="M1199 236h11v12h-11zM1282 236h11v12h-11z"/>
<path fill="#00009e" d="M1210 236h10v12h-10zM1272 236h10v12h-10zM1116 397h11v12h-11zM1366 397h10v12h-10zM1137 409h10v11h-10zM1345 409h10v11h-10z"/>
<path fill="#0000a1" d="M1220 236h11v12h-11zM1262 236h10v12h-10zM1168 248h11v11h-11zM1314 248h10v11h-10z"/>
<path fill="#0000a2" d="M1231 236h10v12h-10zM1251 236h11v12h-11zM1106 271h10v11h-10zM1376 271h10v11h-10zM1075 294h10v11h-10zM1407 294h10v11h-10zM1085 374h11v12h-11zM1397 374h10v12h-10zM1106 386h10v11h-10zM1376 386h10v11h-10zM1210 432h10v11h-10zM1272 432h10v11h-10z"/>
<path fill="#0000a3" d="M1241 236h10v12h-10z"/>
<path fill="#00009a" d="M1147 248h11v11h-11zM1334 248h11v11h-11z"/>
<path fill="#00009d" d="M1158 248h10v11h-10zM1324 248h10v11h-10z"/>
<path fill="#0000a7" d="M1179 248h10v11h-10zM1303 248h11v11h-11zM1231 432h10v11h-10zM1251 432h11v11h-11z"/>
<path fill="#0000ae" d="M1189 248h10v11h-10zM1293 248h10v11h-10zM1147 259h11v12h-11zM1334 259h11v12h-11zM1116 271h11v11h-11zM1366 271h10v11h-10zM1116 386h11v11h-11zM1366 386h10v11h-10zM1168 409h11v11h-11zM1314 409h10v11h-10z"/>
<path fill="#0000b3" d="M1199 248h11v11h-11zM1282 248h11v11h-11zM1075 340h10v11h-10zM1407 340h10v11h-10z"/>
<path fill="#0000b8" d="M1210 248h10v11h-10zM1272 248h10v11h-10zM1075 328h10v12h-10zM1407 328h10v12h-10z"/>
<path fill="#0000bd" d="M1220 248h11v11h-11zM1262 248h10v11h-10zM1158 397h10v12h-10zM1324 397h10v12h-10z"/>
<path fill="#0000bf" d="M1231 248h10v11h-10zM1251 248h11v11h-11zM1241 420h10v12h-10z"/>
<path fill="#0000c2" d="M1241 248h10v11h-10z"/>
<path fill="#000093" d="M1106 259h10v12h-10zM1376 259h10v12h-10zM1085 271h11v11h-11zM1397 271h10v11h-10zM1085 386h11v11h-11zM1397 386h10v11h-10zM1199 443h11v12h-11zM1282 443h11v12h-11z"/>
<path fill="#000099" d="M1116 259h11v12h-11zM1366 259h10v12h-10zM1096 271h10v11h-10zM1386 271h11v11h-11zM1096 386h10v11h-10zM1386 386h11v11h-11zM1127 409h10v11h-10zM1355 409h11v11h-11zM1241 443h10v12h-10z"/>
<path fill="#0000a0" d="M1127 259h10v12h-10zM1355 259h11v12h-11zM1075 363h10v11h-10zM1407 363h10v11h-10z"/>
<path fill="#0000a6" d="M1137 259h10v12h-10zM1345 259h10v12h-10z"/>
<path fill="#0000b4" d="M1158 259h10v12h-10zM1324 259h10v12h-10zM1075 317h10v11h-10zM1407 317h10v11h-10z"/>
<path fill="#0000bb" d="M1168 259h11v12h-11zM1314 259h10v12h-10z"/>
<path fill="#0000c5" d="M1179 259h10v12h-10zM1303 259h11v12h-11zM1137 271h10v11h-10zM1345 271h10v11h-10zM1137 386h10v11h-10zM1345 386h10v11h-10zM1168 397h11v12h-11zM1314 397h10v12h-10z"/>
<path fill="#0000d2" d="M1189 259h10v12h-10zM1293 259h10v12h-10zM1147 271h11v11h-11zM1334 271h11v11h-11zM1147 386h11v11h-11zM1334 386h11v11h-11z"/>
<path fill="#0000db" d="M1199 259h11v12h-11zM1282 259h11v12h-11zM1241 409h10v11h-10z"/>
<path fill="#0000e4" d="M1210 259h10v12h-10zM1272 259h10v12h-10z"/>
<path fill="#0000ec" d="M1220 259h11v12h-11zM1262 259h10v12h-10z"/>
<path fill="#0000f0" d="M1231 259h10v12h-10zM1251 259h11v12h-11zM1096 340h10v11h-10zM1386 340h11v11h-11z"/>
<path fill="#0000f5" d="M1241 259h10v12h-10zM1210 397h10v12h-10zM1272 397h10v12h-10z"/>
<path fill="#0000b9" d="M1127 271h10v11h-10zM1355 271h11v11h-11zM1085 294h11v11h-11zM1397 294h10v11h-10zM1127 386h10v11h-10zM1355 386h11v11h-11z"/>
<path fill="#0000de" d="M1158 271h10v11h-10zM1324 271h10v11h-10zM1158 386h10v11h-10zM1324 386h10v11h-10z"/>
<path fill="#0000e9" d="M1168 271h11v11h-11zM1314 271h10v11h-10zM1168 386h11v11h-11zM1314 386h10v11h-10z"/>
<path fill="#0000fb" d="M1179 271h10v11h-10zM1303 271h11v11h-11zM1179 386h10v11h-10zM1303 386h11v11h-11z"/>
<path fill="#0013ff" d="M1189 271h10v11h-10zM1293 271h10v11h-10zM1189 386h10v11h-10zM1293 386h10v11h-10z"/>
<path fill="#0024ff" d="M1199 271h11v11h-11zM1282 271h11v11h-11zM1199 386h11v11h-11zM1282 386h11v11h-11z"/>
<path fill="#0033ff" d="M1210 271h10v11h-10zM1272 271h10v11h-10zM1210 386h10v11h-10zM1272 386h10v11h-10z"/>
<path fill="#0042ff" d="M1220 271h11v11h-11zM1262 271h10v11h-10zM1137 363h10v11h-10zM1345 363h10v11h-10zM1220 386h11v11h-11zM1262 386h10v11h-10z"/>
<path fill="#0049ff" d="M1231 271h10v11h-10zM1251 271h11v11h-11zM1231 386h10v11h-10zM1251 386h11v11h-11z"/>
<path fill="#0052ff" d="M1241 271h10v11h-10zM1241 386h10v11h-10z"/>
<path fill="#0000a4" d="M1085 282h11v12h-11zM1397 282h10v12h-10zM1147 409h11v11h-11zM1334 409h11v11h-11z"/>
<path fill="#0000af" d="M1096 282h10v12h-10zM1386 282h11v12h-11z"/>
<path fill="#0000c0" d="M1106 282h10v12h-10zM1376 282h10v12h-10zM1189 409h10v11h-10zM1293 409h10v11h-10z"/>
<path fill="#0000d6" d="M1116 282h11v12h-11zM1366 282h10v12h-10zM1085 340h11v11h-11zM1397 340h10v11h-10z"/>
<path fill="#0000eb" d="M1127 282h10v12h-10zM1355 282h11v12h-11zM1199 397h11v12h-11zM1282 397h11v12h-11z"/>
<path fill="#0002ff" d="M1137 282h10v12h-10zM1345 282h10v12h-10zM1116 363h11v11h-11zM1366 363h10v11h-10z"/>
<path fill="#001cff" d="M1147 282h11v12h-11zM1334 282h11v12h-11z"/>
<path fill="#0031ff" d="M1158 282h10v12h-10zM1324 282h10v12h-10z"/>
<path fill="#0047ff" d="M1168 282h11v12h-11zM1314 282h10v12h-10z"/>
<path fill="#0068ff" d="M1179 282h10v12h-10zM1303 282h11v12h-11zM1147 363h11v11h-11zM1334 363h11v11h-11z"/>
<path fill="#0093ff" d="M1189 282h10v12h-10zM1293 282h10v12h-10z"/>
<path fill="#00b3ff" d="M1199 282h11v12h-11zM1282 282h11v12h-11z"/>
<path fill="#00d0ff" d="M1210 282h10v12h-10zM1272 282h10v12h-10z"/>
<path fill="#00ecff" d="M1220 282h11v12h-11zM1262 282h10v12h-10z"/>
<path fill="#00f9ff" d="M1231 282h10v12h-10zM1251 282h11v12h-11z"/>
<path fill="#0afff5" d="M1241 282h10v12h-10z"/>
<path fill="#00008d" d="M1064 294h11v11h-11zM1417 294h11v11h-11zM1116 420h11v12h-11zM1366 420h10v12h-10zM1137 432h10v11h-10zM1345 432h10v11h-10zM1220 455h21v11h-21zM1251 455h21v11h-21z"/>
<path fill="#0000ca" d="M1096 294h10v11h-10zM1386 294h11v11h-11z"/>
<path fill="#0000e6" d="M1106 294h10v11h-10zM1376 294h10v11h-10z"/>
<path fill="#0009ff" d="M1116 294h11v11h-11zM1366 294h10v11h-10zM1106 305h10v12h-10zM1376 305h10v12h-10z"/>
<path fill="#002cff" d="M1127 294h10v11h-10zM1355 294h11v11h-11z"/>
<path fill="#004eff" d="M1137 294h10v11h-10zM1345 294h10v11h-10z"/>
<path fill="#0076ff" d="M1147 294h11v11h-11zM1334 294h11v11h-11z"/>
<path fill="#0098ff" d="M1158 294h10v11h-10zM1324 294h10v11h-10z"/>
<path fill="#00bbff" d="M1168 294h11v11h-11zM1314 294h10v11h-10zM1147 351h11v12h-11zM1334 351h11v12h-11z"/>
<path fill="#00f0ff" d="M1179 294h10v11h-10zM1303 294h11v11h-11z"/>
<path fill="#35ffca" d="M1189 294h10v11h-10zM1293 294h10v11h-10z"/>
<path fill="#67ff98" d="M1199 294h11v11h-11zM1282 294h11v11h-11z"/>
<path fill="#95ff6a" d="M1210 294h10v11h-10zM1272 294h10v11h-10z"/>
<path fill="#c1ff3e" d="M1220 294h11v11h-11zM1262 294h10v11h-10z"/>
<path fill="#d7ff28" d="M1231 294h10v11h-10zM1251 294h11v11h-11z"/>
<path fill="#f0ff0f" d="M1241 294h10v11h-10z"/>
<path fill="#0000ad" d="M1075 305h10v12h-10zM1407 305h10v12h-10zM1096 374h10v12h-10zM1386 374h11v12h-11zM1137 397h10v12h-10zM1345 397h10v12h-10z"/>
<path fill="#0000cc" d="M1085 305h11v12h-11zM1397 305h10v12h-10z"/>
<path fill="#0000e3" d="M1096 305h10v12h-10zM1386 305h11v12h-11z"/>
<path fill="#0036ff" d="M1116 305h11v12h-11zM1366 305h10v12h-10z"/>
<path fill="#0064ff" d="M1127 305h10v12h-10zM1355 305h11v12h-11z"/>
<path fill="#0091ff" d="M1137 305h10v12h-10zM1345 305h10v12h-10z"/>
<path fill="#00c7ff" d="M1147 305h11v12h-11zM1334 305h11v12h-11z"/>
<path fill="#00f4ff" d="M1158 305h10v12h-10zM1324 305h10v12h-10z"/>
<path fill="#23ffdc" d="M1168 305h11v12h-11zM1314 305h10v12h-10z"/>
<path fill="#69ff96" d="M1179 305h10v12h-10zM1303 305h11v12h-11z"/>
<path fill="#c4ff3b" d="M1189 305h10v12h-10zM1293 305h10v12h-10z"/>
<path fill="#fff800" d="M1199 305h11v12h-11zM1282 305h11v12h-11z"/>
<path fill="#ffba00" d="M1210 305h10v12h-10zM1272 305h10v12h-10z"/>
<path fill="#ff8000" d="M1220 305h11v12h-11zM1262 305h10v12h-10z"/>
<path fill="#ff6300" d="M1231 305h10v12h-10zM1251 305h11v12h-11z"/>
<path fill="#ff4200" d="M1241 305h10v12h-10z"/>
<path fill="#0000d8" d="M1085 317h11v11h-11zM1397 317h10v11h-10zM1231 409h10v11h-10zM1251 409h11v11h-11z"/>
<path fill="#0000f3" d="M1096 317h10v11h-10zM1386 317h11v11h-11z"/>
<path fill="#001fff" d="M1106 317h10v11h-10zM1376 317h10v11h-10z"/>
<path fill="#0053ff" d="M1116 317h11v11h-11zM1366 317h10v11h-10z"/>
<path fill="#0088ff" d="M1127 317h10v11h-10zM1355 317h11v11h-11zM1158 363h10v11h-10zM1324 363h10v11h-10z"/>
<path fill="#00bdff" d="M1137 317h10v11h-10zM1345 317h10v11h-10z"/>
<path fill="#00fbff" d="M1147 317h11v11h-11zM1334 317h11v11h-11z"/>
<path fill="#31ffce" d="M1158 317h10v11h-10zM1324 317h10v11h-10z"/>
<path fill="#66ff99" d="M1168 317h11v11h-11zM1314 317h10v11h-10z"/>
<path fill="#b7ff48" d="M1179 317h10v11h-10zM1303 317h11v11h-11z"/>
<path fill="#ffdd00" d="M1189 317h10v11h-10zM1293 317h10v11h-10z"/>
<path fill="#ff9100" d="M1199 317h11v11h-11zM1282 317h11v11h-11z"/>
<path fill="#ff4900" d="M1210 317h10v11h-10zM1272 317h10v11h-10z"/>
<path fill="#ff0600" d="M1220 317h11v11h-11zM1262 317h10v11h-10z"/>
<path fill="#e30000" d="M1231 317h10v11h-10zM1251 317h11v11h-11z"/>
<path fill="#bd0000" d="M1241 317h10v11h-10z"/>
<path fill="#000096" d="M1064 328h11v12h-11zM1417 328h11v12h-11zM1106 397h10v12h-10zM1376 397h10v12h-10z"/>
<path fill="#0000dd" d="M1085 328h11v12h-11zM1397 328h10v12h-10z"/>
<path fill="#0000fa" d="M1096 328h10v12h-10zM1386 328h11v12h-11z"/>
<path fill="#0029ff" d="M1106 328h10v12h-10zM1376 328h10v12h-10z"/>
<path fill="#0061ff" d="M1116 328h11v12h-11zM1366 328h10v12h-10z"/>
<path fill="#0099ff" d="M1127 328h10v12h-10zM1355 328h11v12h-11z"/>
<path fill="#00d1ff" d="M1137 328h10v12h-10zM1345 328h10v12h-10z"/>
<path fill="#14ffeb" d="M1147 328h11v12h-11zM1334 328h11v12h-11z"/>
<path fill="#4dffb2" d="M1158 328h10v12h-10zM1324 328h10v12h-10z"/>
<path fill="#85ff7a" d="M1168 328h11v12h-11zM1314 328h10v12h-10z"/>
<path fill="#dbff24" d="M1179 328h10v12h-10zM1303 328h11v12h-11z"/>
<path fill="#ffb300" d="M1189 328h10v12h-10zM1293 328h10v12h-10z"/>
<path fill="#ff6100" d="M1199 328h11v12h-11zM1282 328h11v12h-11zM1241 351h10v12h-10z"/>
<path fill="#ff1400" d="M1210 328h10v12h-10zM1272 328h10v12h-10z"/>
<path fill="#cc0000" d="M1220 328h11v12h-11zM1262 328h10v12h-10z"/>
<path fill="#a80000" d="M1231 328h10v12h-10zM1251 328h11v12h-11z"/>
<path fill="#800000" d="M1241 328h10v12h-10z"/>
<path fill="#000094" d="M1064 340h11v11h-11zM1417 340h11v11h-11zM1075 374h10v12h-10zM1407 374h10v12h-10zM1116 409h11v11h-11zM1366 409h10v11h-10zM1137 420h10v12h-10zM1345 420h10v12h-10zM1168 432h11v11h-11zM1314 432h10v11h-10z"/>
<path fill="#001bff" d="M1106 340h10v11h-10zM1376 340h10v11h-10z"/>
<path fill="#004fff" d="M1116 340h11v11h-11zM1366 340h10v11h-10z"/>
<path fill="#0083ff" d="M1127 340h10v11h-10zM1355 340h11v11h-11z"/>
<path fill="#00b6ff" d="M1137 340h10v11h-10zM1345 340h10v11h-10z"/>
<path fill="#00f3ff" d="M1147 340h11v11h-11zM1334 340h11v11h-11z"/>
<path fill="#28ffd7" d="M1158 340h10v11h-10zM1324 340h10v11h-10z"/>
<path fill="#5bffa4" d="M1168 340h11v11h-11zM1314 340h10v11h-10z"/>
<path fill="#abff54" d="M1179 340h10v11h-10zM1303 340h11v11h-11z"/>
<path fill="#ffec00" d="M1189 340h10v11h-10zM1293 340h10v11h-10z"/>
<path fill="#ffa100" d="M1199 340h11v11h-11zM1282 340h11v11h-11z"/>
<path fill="#ff5a00" d="M1210 340h10v11h-10zM1272 340h10v11h-10z"/>
<path fill="#ff1800" d="M1220 340h11v11h-11zM1262 340h10v11h-10z"/>
<path fill="#f70000" d="M1231 340h10v11h-10zM1251 340h11v11h-11z"/>
<path fill="#d10000" d="M1241 340h10v11h-10z"/>
<path fill="#0000ab" d="M1075 351h10v12h-10zM1407 351h10v12h-10z"/>
<path fill="#0000c9" d="M1085 351h11v12h-11zM1397 351h10v12h-10z"/>
<path fill="#0000df" d="M1096 351h10v12h-10zM1386 351h11v12h-11z"/>
<path fill="#0004ff" d="M1106 351h10v12h-10zM1376 351h10v12h-10z"/>
<path fill="#0030ff" d="M1116 351h11v12h-11zM1366 351h10v12h-10z"/>
<path fill="#005bff" d="M1127 351h10v12h-10zM1355 351h11v12h-11z"/>
<path fill="#0087ff" d="M1137 351h10v12h-10zM1345 351h10v12h-10z"/>
<path fill="#00e7ff" d="M1158 351h10v12h-10zM1324 351h10v12h-10z"/>
<path fill="#13ffec" d="M1168 351h11v12h-11zM1314 351h10v12h-10z"/>
<path fill="#57ffa8" d="M1179 351h10v12h-10zM1303 351h11v12h-11z"/>
<path fill="#aeff51" d="M1189 351h10v12h-10zM1293 351h10v12h-10z"/>
<path fill="#eeff11" d="M1199 351h11v12h-11zM1282 351h11v12h-11z"/>
<path fill="#ffd400" d="M1210 351h10v12h-10zM1272 351h10v12h-10z"/>
<path fill="#ff9d00" d="M1220 351h11v12h-11zM1262 351h10v12h-10z"/>
<path fill="#ff8100" d="M1231 351h10v12h-10zM1251 351h11v12h-11z"/>
<path fill="#0000b5" d="M1085 363h11v11h-11zM1397 363h10v11h-10z"/>
<path fill="#0000c6" d="M1096 363h10v11h-10zM1386 363h11v11h-11z"/>
<path fill="#0000e0" d="M1106 363h10v11h-10zM1376 363h10v11h-10zM1189 397h10v12h-10zM1293 397h10v12h-10z"/>
<path fill="#0022ff" d="M1127 363h10v11h-10zM1355 363h11v11h-11z"/>
<path fill="#00a9ff" d="M1168 363h11v11h-11zM1314 363h10v11h-10z"/>
<path fill="#00dbff" d="M1179 363h10v11h-10zM1303 363h11v11h-11z"/>
<path fill="#1cffe3" d="M1189 363h10v11h-10zM1293 363h10v11h-10z"/>
<path fill="#4bffb4" d="M1199 363h11v11h-11zM1282 363h11v11h-11z"/>
<path fill="#77ff88" d="M1210 363h10v11h-10zM1272 363h10v11h-10z"/>
<path fill="#a0ff5f" d="M1220 363h11v11h-11zM1262 363h10v11h-10z"/>
<path fill="#b5ff4a" d="M1231 363h10v11h-10zM1251 363h11v11h-11z"/>
<path fill="#ccff33" d="M1241 363h10v11h-10z"/>
<path fill="#0000be" d="M1106 374h10v12h-10zM1376 374h10v12h-10z"/>
<path fill="#0000d3" d="M1116 374h11v12h-11zM1366 374h10v12h-10z"/>
<path fill="#0000e7" d="M1127 374h10v12h-10zM1355 374h11v12h-11z"/>
<path fill="#0000fc" d="M1137 374h10v12h-10zM1345 374h10v12h-10z"/>
<path fill="#0016ff" d="M1147 374h11v12h-11zM1334 374h11v12h-11z"/>
<path fill="#002aff" d="M1158 374h10v12h-10zM1324 374h10v12h-10z"/>
<path fill="#003fff" d="M1168 374h11v12h-11zM1314 374h10v12h-10z"/>
<path fill="#005fff" d="M1179 374h10v12h-10zM1303 374h11v12h-11z"/>
<path fill="#0089ff" d="M1189 374h10v12h-10zM1293 374h10v12h-10z"/>
<path fill="#00a7ff" d="M1199 374h11v12h-11zM1282 374h11v12h-11z"/>
<path fill="#00c3ff" d="M1210 374h10v12h-10zM1272 374h10v12h-10z"/>
<path fill="#00deff" d="M1220 374h11v12h-11zM1262 374h10v12h-10z"/>
<path fill="#00ebff" d="M1231 374h10v12h-10zM1251 374h11v12h-11z"/>
<path fill="#00faff" d="M1241 374h10v12h-10z"/>
<path fill="#0000a5" d="M1127 397h10v12h-10zM1355 397h11v12h-11zM1179 420h10v12h-10zM1303 420h11v12h-11zM1220 432h11v11h-11zM1262 432h10v11h-10z"/>
<path fill="#0000b6" d="M1147 397h11v12h-11zM1334 397h11v12h-11zM1179 409h10v11h-10zM1303 409h11v11h-11zM1210 420h10v12h-10zM1272 420h10v12h-10z"/>
<path fill="#0000d1" d="M1179 397h10v12h-10zM1303 397h11v12h-11z"/>
<path fill="#0000ff" d="M1220 397h11v12h-11zM1262 397h10v12h-10z"/>
<path fill="#0005ff" d="M1231 397h10v12h-10zM1251 397h11v12h-11z"/>
<path fill="#000aff" d="M1241 397h10v12h-10z"/>
<path fill="#0000a9" d="M1158 409h10v11h-10zM1324 409h10v11h-10z"/>
<path fill="#0000c7" d="M1199 409h11v11h-11zM1282 409h11v11h-11z"/>
<path fill="#0000ce" d="M1210 409h10v11h-10zM1272 409h10v11h-10z"/>
<path fill="#0000d4" d="M1220 409h11v11h-11zM1262 409h10v11h-10z"/>
<path fill="#00009c" d="M1158 420h10v12h-10zM1324 420h10v12h-10zM1189 432h10v11h-10zM1293 432h10v11h-10z"/>
<path fill="#00009f" d="M1168 420h11v12h-11zM1314 420h10v12h-10zM1199 432h11v11h-11zM1282 432h11v11h-11z"/>
<path fill="#0000ac" d="M1189 420h10v12h-10zM1293 420h10v12h-10z"/>
<path fill="#0000b1" d="M1199 420h11v12h-11zM1282 420h11v12h-11z"/>
<path fill="#0000ba" d="M1220 420h11v12h-11zM1262 420h10v12h-10z"/>
<path fill="#0000bc" d="M1231 420h10v12h-10zM1251 420h11v12h-11z"/>
<path fill="#0000a8" d="M1241 432h10v11h-10z"/>
<path fill="#000097" d="M1220 443h11v12h-11zM1262 443h10v12h-10z"/></g>
<path d="M986.5 49.5h5M986.5 68.6h5M986.5 87.7h9M986.5 106.8h5M986.5 125.9h5M986.5 145.0h5M986.5 164.0h5M986.5 183.1h5M986.5 202.2h9M986.5 221.3h5M986.5 240.4h5M986.5 259.5h5M986.5 278.6h5M986.5 297.7h5M986.5 316.8h9M986.5 335.9h5M986.5 355.0h5M986.5 374.1h5M986.5 393.2h5M986.5 412.3h5M986.5 431.4h9M986.5 450.4h5M986.5 469.5h5M986.5 488.6h5M986.5 507.7h5M986.5 526.8h5M986.5 545.9h9M986.5 565.0h5M986.5 584.1h5M986.5 603.2h5M1166.4 620.8v-8.5M1325.8 620.8v-8.5M1485.3 620.8v-8.5M1006.9 620.8v-4.5M1126.5 620.8v-4.5M1286.0 620.8v-4.5M1365.7 620.8v-4.5" stroke="#000018" stroke-width="1.6" fill="none"/>
<path d="M1047.20 620.80V174.70M1445.60 620.80V174.70" stroke="#000" stroke-width="2.20" fill="none"/>
<path d="M1046.10 176.10H1240.10M1252.20 176.10H1446.70" stroke="#000" stroke-width="2.80" fill="none"/>
<path d="M1238.60 60.00H1253.70" stroke="#000" stroke-width="2.60" fill="none"/>
<path d="M1240.10 98.80H1252.20" stroke="#000" stroke-width="2.20" fill="none"/>
<path d="M1240.10 177.50V60.00M1252.20 177.50V60.00" stroke="#000" stroke-width="3.00" fill="none"/>
<rect x="1047.20" y="289.85" width="398.40" height="2.30" fill="#000"/>
<rect x="1047.20" y="328.40" width="398.40" height="7.20" fill="#000"/>
<rect x="1047.20" y="372.90" width="398.40" height="2.60" fill="#000"/>
<rect x="986.50" y="620.30" width="524.50" height="1.50" fill="#000"/>
<path d="M987.10 26.10L991.90 40.00L982.30 40.00z" fill="#000"/>
<path d="M1525.80 621.00L1510.00 614.70L1510.00 627.30z" fill="#000"/>
<text class="t" x="971.50" y="53.70" font-size="46.35" text-anchor="end">3.4</text>
<text class="t" x="971.50" y="113.90" font-size="46.35" text-anchor="end">3.1</text>
<text class="t" x="971.50" y="183.10" font-size="46.35" text-anchor="end">2.8</text>
<text class="t" x="971.50" y="246.10" font-size="46.35" text-anchor="end">2.5</text>
<text class="t" x="971.50" y="309.10" font-size="46.35" text-anchor="end">2.2</text>
<text class="t" x="971.50" y="372.20" font-size="46.35" text-anchor="end">1.9</text>
<text class="t" x="971.50" y="437.70" font-size="46.35" text-anchor="end">1.6</text>
<text class="t" x="971.50" y="503.70" font-size="46.35" text-anchor="end">1.3</text>
<text class="t" x="971.50" y="569.80" font-size="46.35" text-anchor="end">1.0</text>
<text class="t" x="971.50" y="630.10" font-size="46.35" text-anchor="end">0.7</text>
<text class="t" transform="translate(923.11 675.44) scale(1.0327 1)" font-size="46.35">−10</text>
<text class="t" transform="translate(1036.03 675.44) scale(0.9814 1)" font-size="46.35">10</text>
<text class="t" transform="translate(1127.99 675.44) scale(1.0384 1)" font-size="46.35">30</text>
<text class="t" transform="translate(1213.10 675.44) scale(1.0428 1)" font-size="46.35">50</text>
<text class="t" transform="translate(1303.46 675.44) scale(1.0751 1)" font-size="46.35">70</text>
<text class="t" transform="translate(1401.29 675.44) scale(1.0161 1)" font-size="46.35">90</text>
<text class="t" transform="translate(1478.29 675.44) scale(0.9918 1)" font-size="46.35">110</text>
<text class="t" transform="translate(1091.40 748.16) scale(0.9851 1)" font-size="61.10">y (microns)</text>
<text class="t" transform="translate(852.14 470.50) rotate(-90) scale(0.9901 1)" font-size="60.78">z (microns)</text>
<text class="t" transform="translate(811.60 113.22) scale(1.1022 1)" font-size="50.39">(b)</text>
</g>
<g id="pc">
<rect x="1752.40" y="46.50" width="514.30" height="572.50" fill="#000080"/>
<clipPath id="cc"><rect x="1752.40" y="46.50" width="514.30" height="572.50"/></clipPath>
<g clip-path="url(#cc)"><path fill="#000081" d="M1932 201h42v12h-42zM2046 201h41v12h-41zM1881 213h31v11h-31zM2107 213h31v11h-31zM1850 224h31v12h-31zM2138 224h31v12h-31zM1840 236h20v11h-20zM2159 236h20v11h-20zM1830 247h10v12h-10zM2179 247h11v12h-11zM1819 270h11v12h-11zM2190 270h10v12h-10zM1819 385h11v11h-11zM2190 385h10v11h-10zM1830 408h10v11h-10zM2179 408h11v11h-11zM1830 419h10v12h-10zM2179 419h11v12h-11zM1840 431h10v11h-10zM2169 431h10v11h-10zM1850 442h21v12h-21zM2148 442h21v12h-21zM1860 454h31v11h-31zM2128 454h31v11h-31zM1891 465h31v12h-31zM2097 465h31v12h-31zM1932 477h42v11h-42zM2046 477h41v11h-41z"/>
<path fill="#000082" d="M1974 201h30v12h-30zM2015 201h31v12h-31zM1912 213h20v11h-20zM2087 213h20v11h-20zM1881 224h10v12h-10zM2128 224h10v12h-10zM1860 236h11v11h-11zM2148 236h11v11h-11zM1840 247h10v12h-10zM2169 247h10v12h-10zM1830 259h10v11h-10zM2179 259h11v11h-11zM1819 282h11v11h-11zM2190 282h10v11h-10zM1819 373h11v12h-11zM2190 373h10v12h-10zM1830 396h10v12h-10zM2179 396h11v12h-11zM1840 419h10v12h-10zM2169 419h10v12h-10zM1850 431h10v11h-10zM2159 431h10v11h-10zM1871 442h10v12h-10zM2138 442h10v12h-10zM1891 454h11v11h-11zM2118 454h10v11h-10zM1922 465h21v12h-21zM2076 465h21v12h-21zM1974 477h30v11h-30zM2015 477h31v11h-31z"/>
<path fill="#000083" d="M2004 201h11v12h-11zM1932 213h21v11h-21zM2066 213h21v11h-21zM1891 224h21v12h-21zM2107 224h21v12h-21zM1871 236h10v11h-10zM2138 236h10v11h-10zM1850 247h10v12h-10zM2159 247h10v12h-10zM1830 270h10v12h-10zM2179 270h11v12h-11zM1819 293h11v12h-11zM2190 293h10v12h-10zM1819 362h11v11h-11zM2190 362h10v11h-10zM1830 385h10v11h-10zM2179 385h11v11h-11zM1840 408h10v11h-10zM2169 408h10v11h-10zM1850 419h10v12h-10zM2159 419h10v12h-10zM1860 431h11v11h-11zM2148 431h11v11h-11zM1881 442h10v12h-10zM2128 442h10v12h-10zM1902 454h20v11h-20zM2097 454h21v11h-21zM1943 465h20v12h-20zM2056 465h20v12h-20zM2004 477h11v11h-11z"/>
<path fill="#000084" d="M1953 213h10v11h-10zM2056 213h10v11h-10zM1912 224h10v12h-10zM2097 224h10v12h-10zM1881 236h10v11h-10zM2128 236h10v11h-10zM1840 259h10v11h-10zM2169 259h10v11h-10zM1819 305h11v11h-11zM2190 305h10v11h-10zM1819 350h11v12h-11zM2190 350h10v12h-10zM1840 396h10v12h-10zM2169 396h10v12h-10zM1860 419h11v12h-11zM2148 419h11v12h-11zM1871 431h10v11h-10zM2138 431h10v11h-10zM1891 442h11v12h-11zM2118 442h10v12h-10zM1922 454h10v11h-10zM2087 454h10v11h-10zM1963 465h11v12h-11zM2046 465h10v12h-10z"/>
<path fill="#000085" d="M1963 213h11v11h-11zM2046 213h10v11h-10zM1922 224h10v12h-10zM2087 224h10v12h-10zM1860 247h11v12h-11zM2148 247h11v12h-11zM1819 316h11v12h-11zM2190 316h10v12h-10zM1819 339h11v11h-11zM2190 339h10v11h-10zM1850 408h10v11h-10zM2159 408h10v11h-10zM1881 431h10v11h-10zM2128 431h10v11h-10zM1902 442h10v12h-10zM2107 442h11v12h-11zM1932 454h11v11h-11zM2076 454h11v11h-11zM1974 465h10v12h-10zM2035 465h11v12h-11z"/>
<path fill="#000086" d="M1974 213h20v11h-20zM2025 213h21v11h-21zM1891 236h11v11h-11zM2118 236h10v11h-10zM1871 247h10v12h-10zM2138 247h10v12h-10zM1850 259h10v11h-10zM2159 259h10v11h-10zM1819 328h11v11h-11zM2190 328h10v11h-10zM1830 373h10v12h-10zM2179 373h11v12h-11zM1871 419h10v12h-10zM2138 419h10v12h-10zM1891 431h11v11h-11zM2118 431h10v11h-10zM1912 442h10v12h-10zM2097 442h10v12h-10zM1943 454h10v11h-10zM2066 454h10v11h-10zM1984 465h20v12h-20zM2015 465h20v12h-20z"/>
<path fill="#000087" d="M1994 213h10v11h-10zM2015 213h10v11h-10zM1932 224h11v12h-11zM2076 224h11v12h-11zM1902 236h10v11h-10zM2107 236h11v11h-11zM1840 270h10v12h-10zM2169 270h10v12h-10zM1830 282h10v11h-10zM2179 282h11v11h-11zM1840 385h10v11h-10zM2169 385h10v11h-10zM1850 396h10v12h-10zM2159 396h10v12h-10zM1860 408h11v11h-11zM2148 408h11v11h-11zM1953 454h10v11h-10zM2056 454h10v11h-10zM2004 465h11v12h-11z"/>
<path fill="#000088" d="M2004 213h11v11h-11zM1943 224h10v12h-10zM2066 224h10v12h-10zM1881 247h10v12h-10zM2128 247h10v12h-10zM1881 419h10v12h-10zM2128 419h10v12h-10zM1902 431h10v11h-10zM2107 431h11v11h-11zM1922 442h10v12h-10zM2087 442h10v12h-10z"/>
<path fill="#000089" d="M1953 224h10v12h-10zM2056 224h10v12h-10zM1912 236h10v11h-10zM2097 236h10v11h-10zM1860 259h11v11h-11zM2148 259h11v11h-11zM1871 408h10v11h-10zM2138 408h10v11h-10zM1932 442h11v12h-11zM2076 442h11v12h-11zM1963 454h11v11h-11zM2046 454h10v11h-10z"/>
<path fill="#00008b" d="M1963 224h11v12h-11zM2046 224h10v12h-10zM1922 236h10v11h-10zM2087 236h10v11h-10zM1891 247h11v12h-11zM2118 247h10v12h-10zM1850 270h10v12h-10zM2159 270h10v12h-10zM1830 293h10v12h-10zM2179 293h11v12h-11zM1850 385h10v11h-10zM2159 385h10v11h-10zM1943 442h10v12h-10zM2066 442h10v12h-10z"/>
<path fill="#00008d" d="M1974 224h10v12h-10zM2035 224h11v12h-11zM1932 236h11v11h-11zM2076 236h11v11h-11zM1840 282h10v11h-10zM2169 282h10v11h-10zM1840 373h10v12h-10zM2169 373h10v12h-10zM1902 419h10v12h-10zM2107 419h11v12h-11zM1922 431h10v11h-10zM2087 431h10v11h-10zM1953 442h10v12h-10zM2056 442h10v12h-10zM1994 454h10v11h-10zM2015 454h10v11h-10z"/>
<path fill="#00008f" d="M1984 224h10v12h-10zM2025 224h10v12h-10zM1881 259h10v11h-10zM2128 259h10v11h-10zM1891 408h11v11h-11zM2118 408h10v11h-10zM1932 431h11v11h-11zM2076 431h11v11h-11z"/>
<path fill="#000091" d="M1994 224h10v12h-10zM2015 224h10v12h-10zM1912 247h10v12h-10zM2097 247h10v12h-10zM1830 316h10v12h-10zM2179 316h11v12h-11z"/>
<path fill="#000092" d="M2004 224h11v12h-11zM1830 328h10v11h-10zM2179 328h11v11h-11zM1881 396h10v12h-10zM2128 396h10v12h-10zM1943 431h10v11h-10zM2066 431h10v11h-10z"/>
<path fill="#000090" d="M1943 236h10v11h-10zM2066 236h10v11h-10zM1860 270h11v12h-11zM2148 270h11v12h-11zM1830 339h10v11h-10zM2179 339h11v11h-11zM1860 385h11v11h-11zM2148 385h11v11h-11zM1912 419h10v12h-10zM2097 419h10v12h-10zM1963 442h11v12h-11zM2046 442h10v12h-10z"/>
<path fill="#000093" d="M1953 236h10v11h-10zM2056 236h10v11h-10zM1891 259h11v11h-11zM2118 259h10v11h-10zM1902 408h10v11h-10zM2107 408h11v11h-11zM1974 442h10v12h-10zM2035 442h11v12h-11z"/>
<path fill="#000097" d="M1963 236h11v11h-11zM2046 236h10v11h-10zM1891 396h11v12h-11zM2118 396h10v12h-10zM1994 442h10v12h-10zM2015 442h10v12h-10z"/>
<path fill="#00009a" d="M1974 236h10v11h-10zM2035 236h11v11h-11zM1963 431h11v11h-11zM2046 431h10v11h-10z"/>
<path fill="#00009e" d="M1984 236h10v11h-10zM2025 236h10v11h-10zM1943 247h10v12h-10zM2066 247h10v12h-10zM1860 282h11v11h-11zM2148 282h11v11h-11zM1974 431h10v11h-10zM2035 431h11v11h-11z"/>
<path fill="#0000a1" d="M1994 236h10v11h-10zM2015 236h10v11h-10zM1840 316h10v12h-10zM2169 316h10v12h-10z"/>
<path fill="#0000a3" d="M2004 236h11v11h-11zM1953 247h10v12h-10zM2056 247h10v12h-10zM1891 270h11v12h-11zM2118 270h10v12h-10zM1840 328h10v11h-10zM2169 328h10v11h-10zM1891 385h11v11h-11zM2118 385h10v11h-10zM1932 408h11v11h-11zM2076 408h11v11h-11z"/>
<path fill="#00008e" d="M1902 247h10v12h-10zM2107 247h11v12h-11zM1830 305h10v11h-10zM2179 305h11v11h-11zM1830 350h10v12h-10zM2179 350h11v12h-11zM1871 396h10v12h-10zM2138 396h10v12h-10zM2004 454h11v11h-11z"/>
<path fill="#000095" d="M1922 247h10v12h-10zM2087 247h10v12h-10zM1871 270h10v12h-10zM2138 270h10v12h-10zM1850 282h10v11h-10zM2159 282h10v11h-10zM1840 293h10v12h-10zM2169 293h10v12h-10zM1871 385h10v11h-10zM2138 385h10v11h-10zM1984 442h10v12h-10zM2025 442h10v12h-10z"/>
<path fill="#000099" d="M1932 247h11v12h-11zM2076 247h11v12h-11zM1902 259h10v11h-10zM2107 259h11v11h-11zM2004 442h11v12h-11z"/>
<path fill="#0000ab" d="M1963 247h11v12h-11zM2046 247h10v12h-10zM1850 350h10v12h-10zM2159 350h10v12h-10z"/>
<path fill="#0000b2" d="M1974 247h10v12h-10zM2035 247h11v12h-11zM1881 373h10v12h-10zM2128 373h10v12h-10z"/>
<path fill="#0000b8" d="M1984 247h10v12h-10zM2025 247h10v12h-10zM1850 328h10v11h-10zM2159 328h10v11h-10z"/>
<path fill="#0000bd" d="M1994 247h10v12h-10zM2015 247h10v12h-10zM1871 362h10v11h-10zM2138 362h10v11h-10z"/>
<path fill="#0000c2" d="M2004 247h11v12h-11zM1922 270h10v12h-10zM2087 270h10v12h-10zM1891 282h11v11h-11zM2118 282h10v11h-10zM1922 385h10v11h-10zM2087 385h10v11h-10z"/>
<path fill="#00008c" d="M1871 259h10v11h-10zM2138 259h10v11h-10zM1881 408h10v11h-10zM2128 408h10v11h-10zM1984 454h10v11h-10zM2025 454h10v11h-10z"/>
<path fill="#00009f" d="M1912 259h10v11h-10zM2097 259h10v11h-10z"/>
<path fill="#0000a5" d="M1922 259h10v11h-10zM2087 259h10v11h-10z"/>
<path fill="#0000ad" d="M1932 259h11v11h-11zM2076 259h11v11h-11zM1850 305h10v11h-10zM2159 305h10v11h-10zM1860 362h11v11h-11zM2148 362h11v11h-11z"/>
<path fill="#0000b5" d="M1943 259h10v11h-10zM2066 259h10v11h-10zM1881 282h10v11h-10zM2128 282h10v11h-10zM1932 396h11v12h-11zM2076 396h11v12h-11zM1984 419h10v12h-10zM2025 419h10v12h-10z"/>
<path fill="#0000bf" d="M1953 259h10v11h-10zM2056 259h10v11h-10zM2004 419h11v12h-11z"/>
<path fill="#0000cc" d="M1963 259h11v11h-11zM2046 259h10v11h-10z"/>
<path fill="#0000d8" d="M1974 259h10v11h-10zM2035 259h11v11h-11z"/>
<path fill="#0000e3" d="M1984 259h10v11h-10zM2025 259h10v11h-10zM1891 362h11v11h-11zM2118 362h10v11h-10z"/>
<path fill="#0000ed" d="M1994 259h10v11h-10zM2015 259h10v11h-10z"/>
<path fill="#0000f5" d="M2004 259h11v11h-11zM1984 396h10v12h-10zM2025 396h10v12h-10z"/>
<path fill="#00009c" d="M1881 270h10v12h-10zM2128 270h10v12h-10zM1840 305h10v11h-10zM2169 305h10v11h-10zM1881 385h10v11h-10zM2128 385h10v11h-10zM1943 419h10v12h-10zM2066 419h10v12h-10z"/>
<path fill="#0000ac" d="M1902 270h10v12h-10zM2107 270h11v12h-11zM1902 385h10v11h-10zM2107 385h11v11h-11zM1922 396h10v12h-10zM2087 396h10v12h-10z"/>
<path fill="#0000b7" d="M1912 270h10v12h-10zM2097 270h10v12h-10zM1912 385h10v11h-10zM2097 385h10v11h-10z"/>
<path fill="#0000d1" d="M1932 270h11v12h-11zM2076 270h11v12h-11zM1902 373h10v12h-10zM2107 373h11v12h-11zM1932 385h11v11h-11zM2076 385h11v11h-11z"/>
<path fill="#0000df" d="M1943 270h10v12h-10zM2066 270h10v12h-10zM1943 385h10v11h-10zM2066 385h10v11h-10z"/>
<path fill="#0000f0" d="M1953 270h10v12h-10zM2056 270h10v12h-10zM1953 385h10v11h-10zM2056 385h10v11h-10z"/>
<path fill="#0008ff" d="M1963 270h11v12h-11zM2046 270h10v12h-10zM1891 350h11v12h-11zM2118 350h10v12h-10zM1963 385h11v11h-11zM2046 385h10v11h-10z"/>
<path fill="#001eff" d="M1974 270h10v12h-10zM2035 270h11v12h-11zM1974 385h10v11h-10zM2035 385h11v11h-11z"/>
<path fill="#0032ff" d="M1984 270h10v12h-10zM2025 270h10v12h-10zM1902 305h10v11h-10zM2107 305h11v11h-11zM1984 385h10v11h-10zM2025 385h10v11h-10z"/>
<path fill="#0044ff" d="M1994 270h10v12h-10zM2015 270h10v12h-10zM1994 385h10v11h-10zM2015 385h10v11h-10z"/>
<path fill="#0052ff" d="M2004 270h11v12h-11zM2004 385h11v11h-11z"/>
<path fill="#0000a9" d="M1871 282h10v11h-10zM2138 282h10v11h-10zM1943 408h10v11h-10zM2066 408h10v11h-10zM1963 419h11v12h-11zM2046 419h10v12h-10z"/>
<path fill="#0000d4" d="M1902 282h10v11h-10zM2107 282h11v11h-11z"/>
<path fill="#0000e8" d="M1912 282h10v11h-10zM2097 282h10v11h-10z"/>
<path fill="#0000fd" d="M1922 282h10v11h-10zM2087 282h10v11h-10z"/>
<path fill="#001aff" d="M1932 282h11v11h-11zM2076 282h11v11h-11z"/>
<path fill="#0033ff" d="M1943 282h10v11h-10zM2066 282h10v11h-10z"/>
<path fill="#0055ff" d="M1953 282h10v11h-10zM2056 282h10v11h-10z"/>
<path fill="#0080ff" d="M1963 282h11v11h-11zM2046 282h10v11h-10z"/>
<path fill="#00a9ff" d="M1974 282h10v11h-10zM2035 282h11v11h-11z"/>
<path fill="#00ceff" d="M1984 282h10v11h-10zM2025 282h10v11h-10z"/>
<path fill="#00f0ff" d="M1994 282h10v11h-10zM2015 282h10v11h-10z"/>
<path fill="#0afff5" d="M2004 282h11v11h-11z"/>
<path fill="#0000a2" d="M1850 293h10v12h-10zM2159 293h10v12h-10zM1953 419h10v12h-10zM2056 419h10v12h-10zM1984 431h10v11h-10zM2025 431h10v11h-10z"/>
<path fill="#0000b0" d="M1860 293h11v12h-11zM2148 293h11v12h-11z"/>
<path fill="#0000c1" d="M1871 293h10v12h-10zM2138 293h10v12h-10z"/>
<path fill="#0000d3" d="M1881 293h10v12h-10zM2128 293h10v12h-10zM1871 350h10v12h-10zM2138 350h10v12h-10z"/>
<path fill="#0000e9" d="M1891 293h11v12h-11zM2118 293h10v12h-10z"/>
<path fill="#0006ff" d="M1902 293h10v12h-10zM2107 293h11v12h-11z"/>
<path fill="#0025ff" d="M1912 293h10v12h-10zM2097 293h10v12h-10z"/>
<path fill="#0048ff" d="M1922 293h10v12h-10zM2087 293h10v12h-10z"/>
<path fill="#0073ff" d="M1932 293h11v12h-11zM2076 293h11v12h-11z"/>
<path fill="#009cff" d="M1943 293h10v12h-10zM2066 293h10v12h-10z"/>
<path fill="#00d0ff" d="M1953 293h10v12h-10zM2056 293h10v12h-10z"/>
<path fill="#16ffe9" d="M1963 293h11v12h-11zM2046 293h10v12h-10z"/>
<path fill="#57ffa8" d="M1974 293h10v12h-10zM2035 293h11v12h-11z"/>
<path fill="#92ff6d" d="M1984 293h10v12h-10zM2025 293h10v12h-10z"/>
<path fill="#c7ff38" d="M1994 293h10v12h-10zM2015 293h10v12h-10z"/>
<path fill="#f0ff0f" d="M2004 293h11v12h-11z"/>
<path fill="#0000c0" d="M1860 305h11v11h-11zM2148 305h11v11h-11zM1891 373h11v12h-11zM2118 373h10v12h-10z"/>
<path fill="#0000d6" d="M1871 305h10v11h-10zM2138 305h10v11h-10z"/>
<path fill="#0000ef" d="M1881 305h10v11h-10zM2128 305h10v11h-10z"/>
<path fill="#000dff" d="M1891 305h11v11h-11zM2118 305h10v11h-10z"/>
<path fill="#005bff" d="M1912 305h10v11h-10zM2097 305h10v11h-10z"/>
<path fill="#0089ff" d="M1922 305h10v11h-10zM2087 305h10v11h-10z"/>
<path fill="#00c3ff" d="M1932 305h11v11h-11zM2076 305h11v11h-11z"/>
<path fill="#00f8ff" d="M1943 305h10v11h-10zM2066 305h10v11h-10z"/>
<path fill="#40ffbf" d="M1953 305h10v11h-10zM2056 305h10v11h-10z"/>
<path fill="#9bff64" d="M1963 305h11v11h-11zM2046 305h10v11h-10z"/>
<path fill="#f1ff0e" d="M1974 305h10v11h-10zM2035 305h11v11h-11zM1963 316h11v12h-11zM2046 316h10v12h-10z"/>
<path fill="#ffbe00" d="M1984 305h10v11h-10zM2025 305h10v11h-10z"/>
<path fill="#ff7800" d="M1994 305h10v11h-10zM2015 305h10v11h-10z"/>
<path fill="#ff4200" d="M2004 305h11v11h-11z"/>
<path fill="#0000b4" d="M1850 316h10v12h-10zM2159 316h10v12h-10z"/>
<path fill="#0000ca" d="M1860 316h11v12h-11zM2148 316h11v12h-11zM1953 396h10v12h-10zM2056 396h10v12h-10z"/>
<path fill="#0000e4" d="M1871 316h10v12h-10zM2138 316h10v12h-10zM1912 373h10v12h-10zM2097 373h10v12h-10z"/>
<path fill="#0002ff" d="M1881 316h10v12h-10zM2128 316h10v12h-10z"/>
<path fill="#0023ff" d="M1891 316h11v12h-11zM2118 316h10v12h-10z"/>
<path fill="#004fff" d="M1902 316h10v12h-10zM2107 316h11v12h-11z"/>
<path fill="#007fff" d="M1912 316h10v12h-10zM2097 316h10v12h-10zM1922 350h10v12h-10zM2087 350h10v12h-10z"/>
<path fill="#00b3ff" d="M1922 316h10v12h-10zM2087 316h10v12h-10z"/>
<path fill="#00f6ff" d="M1932 316h11v12h-11zM2076 316h11v12h-11z"/>
<path fill="#36ffc9" d="M1943 316h10v12h-10zM2066 316h10v12h-10z"/>
<path fill="#87ff78" d="M1953 316h10v12h-10zM2056 316h10v12h-10zM1963 350h11v12h-11zM2046 350h10v12h-10z"/>
<path fill="#ffa900" d="M1974 316h10v12h-10zM2035 316h11v12h-11z"/>
<path fill="#ff4e00" d="M1984 316h10v12h-10zM2025 316h10v12h-10z"/>
<path fill="#fb0000" d="M1994 316h10v12h-10zM2015 316h10v12h-10z"/>
<path fill="#bd0000" d="M2004 316h11v12h-11z"/>
<path fill="#0000cf" d="M1860 328h11v11h-11zM2148 328h11v11h-11zM1881 362h10v11h-10zM2128 362h10v11h-10z"/>
<path fill="#0000eb" d="M1871 328h10v11h-10zM2138 328h10v11h-10zM1881 350h10v12h-10zM2128 350h10v12h-10z"/>
<path fill="#000aff" d="M1881 328h10v11h-10zM2128 328h10v11h-10zM2004 396h11v12h-11z"/>
<path fill="#002eff" d="M1891 328h11v11h-11zM2118 328h10v11h-10z"/>
<path fill="#005cff" d="M1902 328h10v11h-10zM2107 328h11v11h-11z"/>
<path fill="#008fff" d="M1912 328h10v11h-10zM2097 328h10v11h-10z"/>
<path fill="#00c7ff" d="M1922 328h10v11h-10zM2087 328h10v11h-10z"/>
<path fill="#0ffff0" d="M1932 328h11v11h-11zM2076 328h11v11h-11z"/>
<path fill="#52ffad" d="M1943 328h10v11h-10zM2066 328h10v11h-10z"/>
<path fill="#a8ff57" d="M1953 328h10v11h-10zM2056 328h10v11h-10z"/>
<path fill="#ffe500" d="M1963 328h11v11h-11zM2046 328h10v11h-10z"/>
<path fill="#ff7a00" d="M1974 328h10v11h-10zM2035 328h11v11h-11z"/>
<path fill="#ff1a00" d="M1984 328h10v11h-10zM2025 328h10v11h-10z"/>
<path fill="#c20000" d="M1994 328h10v11h-10zM2015 328h10v11h-10z"/>
<path fill="#800000" d="M2004 328h11v11h-11z"/>
<path fill="#0000a0" d="M1840 339h10v11h-10zM2169 339h10v11h-10zM1850 362h10v11h-10zM2159 362h10v11h-10z"/>
<path fill="#0000b3" d="M1850 339h10v11h-10zM2159 339h10v11h-10z"/>
<path fill="#0000c9" d="M1860 339h11v11h-11zM2148 339h11v11h-11z"/>
<path fill="#0000e2" d="M1871 339h10v11h-10zM2138 339h10v11h-10z"/>
<path fill="#0000fe" d="M1881 339h10v11h-10zM2128 339h10v11h-10zM1902 362h10v11h-10zM2107 362h11v11h-11z"/>
<path fill="#0020ff" d="M1891 339h11v11h-11zM2118 339h10v11h-10z"/>
<path fill="#004aff" d="M1902 339h10v11h-10zM2107 339h11v11h-11z"/>
<path fill="#0079ff" d="M1912 339h10v11h-10zM2097 339h10v11h-10z"/>
<path fill="#00adff" d="M1922 339h10v11h-10zM2087 339h10v11h-10z"/>
<path fill="#00eeff" d="M1932 339h11v11h-11zM2076 339h11v11h-11z"/>
<path fill="#2cffd3" d="M1943 339h10v11h-10zM2066 339h10v11h-10z"/>
<path fill="#7cff83" d="M1953 339h10v11h-10zM2056 339h10v11h-10z"/>
<path fill="#e3ff1c" d="M1963 339h11v11h-11zM2046 339h10v11h-10z"/>
<path fill="#ffb800" d="M1974 339h10v11h-10zM2035 339h11v11h-11z"/>
<path fill="#ff5f00" d="M1984 339h10v11h-10zM2025 339h10v11h-10z"/>
<path fill="#ff0f00" d="M1994 339h10v11h-10zM2015 339h10v11h-10z"/>
<path fill="#d10000" d="M2004 339h11v11h-11z"/>
<path fill="#00009b" d="M1840 350h10v12h-10zM2169 350h10v12h-10z"/>
<path fill="#0000be" d="M1860 350h11v12h-11zM2148 350h11v12h-11zM1943 396h10v12h-10zM2066 396h10v12h-10z"/>
<path fill="#002cff" d="M1902 350h10v12h-10zM2107 350h11v12h-11zM1943 373h10v12h-10zM2066 373h10v12h-10z"/>
<path fill="#0053ff" d="M1912 350h10v12h-10zM2097 350h10v12h-10z"/>
<path fill="#00b7ff" d="M1932 350h11v12h-11zM2076 350h11v12h-11z"/>
<path fill="#00eaff" d="M1943 350h10v12h-10zM2066 350h10v12h-10z"/>
<path fill="#2fffd0" d="M1953 350h10v12h-10zM2056 350h10v12h-10z"/>
<path fill="#daff25" d="M1974 350h10v12h-10zM2035 350h11v12h-11z"/>
<path fill="#ffd800" d="M1984 350h10v12h-10zM2025 350h10v12h-10z"/>
<path fill="#ff9500" d="M1994 350h10v12h-10zM2015 350h10v12h-10z"/>
<path fill="#ff6100" d="M2004 350h11v12h-11z"/>
<path fill="#00008a" d="M1830 362h10v11h-10zM2179 362h11v11h-11zM1860 396h11v12h-11zM2148 396h11v12h-11zM1891 419h11v12h-11zM2118 419h10v12h-10zM1912 431h10v11h-10zM2097 431h10v11h-10zM1974 454h10v11h-10zM2035 454h11v11h-11z"/>
<path fill="#000094" d="M1840 362h10v11h-10zM2169 362h10v11h-10zM1850 373h10v12h-10zM2159 373h10v12h-10zM1922 419h10v12h-10zM2087 419h10v12h-10z"/>
<path fill="#001cff" d="M1912 362h10v11h-10zM2097 362h10v11h-10z"/>
<path fill="#003cff" d="M1922 362h10v11h-10zM2087 362h10v11h-10z"/>
<path fill="#0065ff" d="M1932 362h11v11h-11zM2076 362h11v11h-11z"/>
<path fill="#008bff" d="M1943 362h10v11h-10zM2066 362h10v11h-10z"/>
<path fill="#00bdff" d="M1953 362h10v11h-10zM2056 362h10v11h-10z"/>
<path fill="#00feff" d="M1963 362h11v11h-11zM2046 362h10v11h-10z"/>
<path fill="#3cffc3" d="M1974 362h10v11h-10zM2035 362h11v11h-11z"/>
<path fill="#74ff8b" d="M1984 362h10v11h-10zM2025 362h10v11h-10z"/>
<path fill="#a6ff59" d="M1994 362h10v11h-10zM2015 362h10v11h-10z"/>
<path fill="#ccff33" d="M2004 362h11v11h-11z"/>
<path fill="#00009d" d="M1860 373h11v12h-11zM2148 373h11v12h-11zM1902 396h10v12h-10zM2107 396h11v12h-11zM1922 408h10v11h-10zM2087 408h10v11h-10z"/>
<path fill="#0000a7" d="M1871 373h10v12h-10zM2138 373h10v12h-10z"/>
<path fill="#0000f8" d="M1922 373h10v12h-10zM2087 373h10v12h-10z"/>
<path fill="#0014ff" d="M1932 373h11v12h-11zM2076 373h11v12h-11z"/>
<path fill="#004cff" d="M1953 373h10v12h-10zM2056 373h10v12h-10z"/>
<path fill="#0076ff" d="M1963 373h11v12h-11zM2046 373h10v12h-10z"/>
<path fill="#009dff" d="M1974 373h10v12h-10zM2035 373h11v12h-11z"/>
<path fill="#00c1ff" d="M1984 373h10v12h-10zM2025 373h10v12h-10z"/>
<path fill="#00e1ff" d="M1994 373h10v12h-10zM2015 373h10v12h-10z"/>
<path fill="#00faff" d="M2004 373h11v12h-11z"/>
<path fill="#0000a4" d="M1912 396h10v12h-10zM2097 396h10v12h-10z"/>
<path fill="#0000d9" d="M1963 396h11v12h-11zM2046 396h10v12h-10z"/>
<path fill="#0000e7" d="M1974 396h10v12h-10zM2035 396h11v12h-11z"/>
<path fill="#0001ff" d="M1994 396h10v12h-10zM2015 396h10v12h-10z"/>
<path fill="#000098" d="M1912 408h10v11h-10zM2097 408h10v11h-10zM1932 419h11v12h-11zM2076 419h11v12h-11z"/>
<path fill="#0000b1" d="M1953 408h10v11h-10zM2056 408h10v11h-10z"/>
<path fill="#0000bb" d="M1963 408h11v11h-11zM2046 408h10v11h-10zM1994 419h10v12h-10zM2015 419h10v12h-10z"/>
<path fill="#0000c5" d="M1974 408h10v11h-10zM2035 408h11v11h-11z"/>
<path fill="#0000ce" d="M1984 408h10v11h-10zM2025 408h10v11h-10z"/>
<path fill="#0000d5" d="M1994 408h10v11h-10zM2015 408h10v11h-10z"/>
<path fill="#0000db" d="M2004 408h11v11h-11z"/>
<path fill="#0000af" d="M1974 419h10v12h-10zM2035 419h11v12h-11z"/>
<path fill="#000096" d="M1953 431h10v11h-10zM2056 431h10v11h-10z"/>
<path fill="#0000a6" d="M1994 431h10v11h-10zM2015 431h10v11h-10z"/>
<path fill="#0000a8" d="M2004 431h11v11h-11z"/></g>
<path d="M1752.4 49.5h5M1752.4 68.5h5M1752.4 87.5h9M1752.4 106.6h5M1752.4 125.6h5M1752.4 144.6h5M1752.4 163.7h5M1752.4 182.7h5M1752.4 201.7h9M1752.4 220.8h5M1752.4 239.8h5M1752.4 258.8h5M1752.4 277.9h5M1752.4 296.9h5M1752.4 315.9h9M1752.4 335.0h5M1752.4 354.0h5M1752.4 373.0h5M1752.4 392.1h5M1752.4 411.1h5M1752.4 430.1h9M1752.4 449.2h5M1752.4 468.2h5M1752.4 487.3h5M1752.4 506.3h5M1752.4 525.3h5M1752.4 544.4h9M1752.4 563.4h5M1752.4 582.4h5M1752.4 601.5h5M1772.6 619.0v-8.5M1851.6 619.0v-8.5M2009.5 619.0v-8.5M2088.5 619.0v-8.5M2167.5 619.0v-8.5M2246.5 619.0v-8.5M1970.1 619.0v-4.5M2128.0 619.0v-4.5" stroke="#000018" stroke-width="1.6" fill="none"/>
<path d="M1811.00 619.00V193.60M2207.00 619.00V193.60" stroke="#000" stroke-width="2.20" fill="none"/>
<path d="M1809.90 194.80H2003.00M2015.40 194.80H2208.10" stroke="#000" stroke-width="2.40" fill="none"/>
<path d="M2001.80 60.10H2016.60" stroke="#000" stroke-width="2.60" fill="none"/>
<path d="M2003.00 98.70H2015.40" stroke="#000" stroke-width="2.20" fill="none"/>
<path d="M2003.00 196.00V60.10M2015.40 196.00V60.10" stroke="#000" stroke-width="2.40" fill="none"/>
<rect x="1811.00" y="288.20" width="396.00" height="2.60" fill="#000"/>
<rect x="1811.00" y="328.10" width="396.00" height="3.60" fill="#000"/>
<rect x="1811.00" y="333.90" width="396.00" height="1.80" fill="#000"/>
<rect x="1811.00" y="372.20" width="396.00" height="3.20" fill="#000"/>
<rect x="1811.00" y="331.70" width="396.00" height="2.20" fill="#000" fill-opacity="0.55"/>
<rect x="1749.90" y="39.00" width="2.40" height="581.00" fill="#888"/>
<rect x="1750.00" y="617.90" width="521.00" height="1.80" fill="#000"/>
<rect x="1750.00" y="619.70" width="521.00" height="1.60" fill="#ccc"/>
<path d="M1751.60 24.50L1757.40 39.80L1745.80 39.80z" fill="#000"/>
<path d="M2286.20 619.80L2270.40 614.20L2270.40 625.40z" fill="#000"/>
<text class="t" x="1737.30" y="55.80" font-size="46.35" text-anchor="end">3.4</text>
<text class="t" x="1737.30" y="117.10" font-size="46.35" text-anchor="end">3.1</text>
<text class="t" x="1737.30" y="185.20" font-size="46.35" text-anchor="end">2.8</text>
<text class="t" x="1737.30" y="248.60" font-size="46.35" text-anchor="end">2.5</text>
<text class="t" x="1737.30" y="311.60" font-size="46.35" text-anchor="end">2.2</text>
<text class="t" x="1737.30" y="375.30" font-size="46.35" text-anchor="end">1.9</text>
<text class="t" x="1737.30" y="440.90" font-size="46.35" text-anchor="end">1.6</text>
<text class="t" x="1737.30" y="507.00" font-size="46.35" text-anchor="end">1.3</text>
<text class="t" x="1737.30" y="571.90" font-size="46.35" text-anchor="end">1.0</text>
<text class="t" x="1737.30" y="632.20" font-size="46.35" text-anchor="end">0.7</text>
<text class="t" transform="translate(1693.39 676.14) scale(1.0414 1)" font-size="46.35">−10</text>
<text class="t" transform="translate(1806.98 676.14) scale(0.9961 1)" font-size="46.35">10</text>
<text class="t" transform="translate(1898.85 676.14) scale(1.0574 1)" font-size="46.35">30</text>
<text class="t" transform="translate(1984.13 676.14) scale(1.0332 1)" font-size="46.35">50</text>
<text class="t" transform="translate(2074.91 676.14) scale(1.0583 1)" font-size="46.35">70</text>
<text class="t" transform="translate(2171.96 676.14) scale(1.0324 1)" font-size="46.35">90</text>
<text class="t" transform="translate(2248.84 676.14) scale(1.0047 1)" font-size="46.35">110</text>
<text class="t" transform="translate(1869.70 752.73) scale(1.0010 1)" font-size="60.33">y (microns)</text>
<text class="t" transform="translate(1634.04 470.50) rotate(-90) scale(0.9901 1)" font-size="60.78">z (microns)</text>
<text class="t" transform="translate(1587.69 113.09) scale(1.0938 1)" font-size="51.00">(c)</text>
</g>
<g id="pd">
<rect x="199.70" y="807.00" width="519.80" height="577.50" fill="#000080"/>
<clipPath id="cd"><rect x="199.70" y="807.00" width="519.80" height="577.50"/></clipPath>
<g clip-path="url(#cd)"><path fill="#000081" d="M382 963h41v12h-41zM496 963h42v12h-42zM330 975h31v11h-31zM558 975h32v11h-32zM298 986h32v12h-32zM590 986h31v12h-31zM288 998h21v11h-21zM610 998h21v11h-21zM278 1009h10v12h-10zM631 1009h11v12h-11zM267 1032h11v12h-11zM642 1032h10v12h-10zM267 1148h11v12h-11zM642 1148h10v12h-10zM278 1171h10v12h-10zM631 1171h11v12h-11zM278 1183h10v11h-10zM631 1183h11v11h-11zM288 1194h10v12h-10zM621 1194h10v12h-10zM298 1206h21v11h-21zM600 1206h21v11h-21zM309 1217h31v12h-31zM579 1217h31v12h-31zM340 1229h31v11h-31zM548 1229h31v11h-31zM382 1240h41v12h-41zM496 1240h42v12h-42z"/>
<path fill="#000082" d="M423 963h31v12h-31zM465 963h31v12h-31zM361 975h21v11h-21zM538 975h20v11h-20zM330 986h10v12h-10zM579 986h11v12h-11zM309 998h10v11h-10zM600 998h10v11h-10zM288 1009h10v12h-10zM621 1009h10v12h-10zM278 1021h10v11h-10zM631 1021h11v11h-11zM267 1044h11v12h-11zM642 1044h10v12h-10zM267 1136h11v12h-11zM642 1136h10v12h-10zM278 1160h10v11h-10zM631 1160h11v11h-11zM288 1183h10v11h-10zM621 1183h10v11h-10zM298 1194h11v12h-11zM610 1194h11v12h-11zM319 1206h11v11h-11zM590 1206h10v11h-10zM340 1217h10v12h-10zM569 1217h10v12h-10zM371 1229h21v11h-21zM527 1229h21v11h-21zM423 1240h31v12h-31zM465 1240h31v12h-31z"/>
<path fill="#000083" d="M454 963h11v12h-11zM382 975h20v11h-20zM517 975h21v11h-21zM340 986h21v12h-21zM558 986h21v12h-21zM319 998h11v11h-11zM590 998h10v11h-10zM298 1009h11v12h-11zM610 1009h11v12h-11zM278 1032h10v12h-10zM631 1032h11v12h-11zM267 1056h11v11h-11zM642 1056h10v11h-10zM267 1125h11v11h-11zM642 1125h10v11h-10zM278 1148h10v12h-10zM631 1148h11v12h-11zM288 1171h10v12h-10zM621 1171h10v12h-10zM298 1183h11v11h-11zM610 1183h11v11h-11zM309 1194h10v12h-10zM600 1194h10v12h-10zM330 1206h10v11h-10zM579 1206h11v11h-11zM350 1217h21v12h-21zM548 1217h21v12h-21zM392 1229h21v11h-21zM506 1229h21v11h-21zM454 1240h11v12h-11z"/>
<path fill="#000084" d="M402 975h11v11h-11zM506 975h11v11h-11zM361 986h10v12h-10zM548 986h10v12h-10zM330 998h10v11h-10zM579 998h11v11h-11zM288 1021h10v11h-10zM621 1021h10v11h-10zM267 1067h11v12h-11zM642 1067h10v12h-10zM267 1113h11v12h-11zM642 1113h10v12h-10zM288 1160h10v11h-10zM621 1160h10v11h-10zM309 1183h10v11h-10zM600 1183h10v11h-10zM319 1194h11v12h-11zM590 1194h10v12h-10zM340 1206h10v11h-10zM569 1206h10v11h-10zM371 1217h11v12h-11zM538 1217h10v12h-10zM413 1229h10v11h-10zM496 1229h10v11h-10z"/>
<path fill="#000085" d="M413 975h10v11h-10zM496 975h10v11h-10zM371 986h11v12h-11zM538 986h10v12h-10zM309 1009h10v12h-10zM600 1009h10v12h-10zM267 1079h11v11h-11zM642 1079h10v11h-10zM267 1102h11v11h-11zM642 1102h10v11h-10zM298 1171h11v12h-11zM610 1171h11v12h-11zM330 1194h10v12h-10zM579 1194h11v12h-11zM350 1206h11v11h-11zM558 1206h11v11h-11zM382 1217h10v12h-10zM527 1217h11v12h-11zM423 1229h11v11h-11zM486 1229h10v11h-10z"/>
<path fill="#000086" d="M423 975h21v11h-21zM475 975h21v11h-21zM340 998h10v11h-10zM569 998h10v11h-10zM319 1009h11v12h-11zM590 1009h10v12h-10zM298 1021h11v11h-11zM610 1021h11v11h-11zM267 1090h11v12h-11zM642 1090h10v12h-10zM278 1136h10v12h-10zM631 1136h11v12h-11zM319 1183h11v11h-11zM590 1183h10v11h-10zM340 1194h10v12h-10zM569 1194h10v12h-10zM361 1206h10v11h-10zM548 1206h10v11h-10zM392 1217h10v12h-10zM517 1217h10v12h-10zM434 1229h20v11h-20zM465 1229h21v11h-21z"/>
<path fill="#000087" d="M444 975h10v11h-10zM465 975h10v11h-10zM382 986h10v12h-10zM527 986h11v12h-11zM350 998h11v11h-11zM558 998h11v11h-11zM288 1032h10v12h-10zM621 1032h10v12h-10zM278 1044h10v12h-10zM631 1044h11v12h-11zM288 1148h10v12h-10zM621 1148h10v12h-10zM298 1160h11v11h-11zM610 1160h11v11h-11zM309 1171h10v12h-10zM600 1171h10v12h-10zM402 1217h11v12h-11zM506 1217h11v12h-11zM454 1229h11v11h-11z"/>
<path fill="#000088" d="M454 975h11v11h-11zM392 986h10v12h-10zM517 986h10v12h-10zM330 1009h10v12h-10zM579 1009h11v12h-11zM330 1183h10v11h-10zM579 1183h11v11h-11zM350 1194h11v12h-11zM558 1194h11v12h-11zM371 1206h11v11h-11zM538 1206h10v11h-10z"/>
<path fill="#000089" d="M402 986h11v12h-11zM506 986h11v12h-11zM361 998h10v11h-10zM548 998h10v11h-10zM309 1021h10v11h-10zM600 1021h10v11h-10zM319 1171h11v12h-11zM590 1171h10v12h-10zM382 1206h10v11h-10zM527 1206h11v11h-11zM413 1217h10v12h-10zM496 1217h10v12h-10z"/>
<path fill="#00008b" d="M413 986h10v12h-10zM496 986h10v12h-10zM371 998h11v11h-11zM538 998h10v11h-10zM340 1009h10v12h-10zM569 1009h10v12h-10zM298 1032h11v12h-11zM610 1032h11v12h-11zM278 1056h10v11h-10zM631 1056h11v11h-11zM298 1148h11v12h-11zM610 1148h11v12h-11zM392 1206h10v11h-10zM517 1206h10v11h-10z"/>
<path fill="#00008d" d="M423 986h11v12h-11zM486 986h10v12h-10zM382 998h10v11h-10zM527 998h11v11h-11zM288 1044h10v12h-10zM621 1044h10v12h-10zM288 1136h10v12h-10zM621 1136h10v12h-10zM350 1183h11v11h-11zM558 1183h11v11h-11zM371 1194h11v12h-11zM538 1194h10v12h-10zM402 1206h11v11h-11zM506 1206h11v11h-11zM444 1217h10v12h-10zM465 1217h10v12h-10z"/>
<path fill="#00008f" d="M434 986h10v12h-10zM475 986h11v12h-11zM330 1021h10v11h-10zM579 1021h11v11h-11zM340 1171h10v12h-10zM569 1171h10v12h-10zM382 1194h10v12h-10zM527 1194h11v12h-11z"/>
<path fill="#000091" d="M444 986h10v12h-10zM465 986h10v12h-10zM361 1009h10v12h-10zM548 1009h10v12h-10zM278 1079h10v11h-10zM631 1079h11v11h-11z"/>
<path fill="#000092" d="M454 986h11v12h-11zM278 1090h10v12h-10zM631 1090h11v12h-11zM330 1160h10v11h-10zM579 1160h11v11h-11zM392 1194h10v12h-10zM517 1194h10v12h-10z"/>
<path fill="#000090" d="M392 998h10v11h-10zM517 998h10v11h-10zM309 1032h10v12h-10zM600 1032h10v12h-10zM278 1102h10v11h-10zM631 1102h11v11h-11zM309 1148h10v12h-10zM600 1148h10v12h-10zM361 1183h10v11h-10zM548 1183h10v11h-10zM413 1206h10v11h-10zM496 1206h10v11h-10z"/>
<path fill="#000093" d="M402 998h11v11h-11zM506 998h11v11h-11zM340 1021h10v11h-10zM569 1021h10v11h-10zM350 1171h11v12h-11zM558 1171h11v12h-11zM423 1206h11v11h-11zM486 1206h10v11h-10z"/>
<path fill="#000097" d="M413 998h10v11h-10zM496 998h10v11h-10zM340 1160h10v11h-10zM569 1160h10v11h-10zM444 1206h10v11h-10zM465 1206h10v11h-10z"/>
<path fill="#00009a" d="M423 998h11v11h-11zM486 998h10v11h-10zM413 1194h10v12h-10zM496 1194h10v12h-10z"/>
<path fill="#00009e" d="M434 998h10v11h-10zM475 998h11v11h-11zM392 1009h10v12h-10zM517 1009h10v12h-10zM309 1044h10v12h-10zM600 1044h10v12h-10zM423 1194h11v12h-11zM486 1194h10v12h-10z"/>
<path fill="#0000a1" d="M444 998h10v11h-10zM465 998h10v11h-10zM288 1079h10v11h-10zM621 1079h10v11h-10z"/>
<path fill="#0000a3" d="M454 998h11v11h-11zM402 1009h11v12h-11zM506 1009h11v12h-11zM340 1032h10v12h-10zM569 1032h10v12h-10zM288 1090h10v12h-10zM621 1090h10v12h-10zM340 1148h10v12h-10zM569 1148h10v12h-10zM382 1171h10v12h-10zM527 1171h11v12h-11z"/>
<path fill="#00008e" d="M350 1009h11v12h-11zM558 1009h11v12h-11zM278 1067h10v12h-10zM631 1067h11v12h-11zM278 1113h10v12h-10zM631 1113h11v12h-11zM319 1160h11v11h-11zM590 1160h10v11h-10zM454 1217h11v12h-11z"/>
<path fill="#000095" d="M371 1009h11v12h-11zM538 1009h10v12h-10zM319 1032h11v12h-11zM590 1032h10v12h-10zM298 1044h11v12h-11zM610 1044h11v12h-11zM288 1056h10v11h-10zM621 1056h10v11h-10zM319 1148h11v12h-11zM590 1148h10v12h-10zM434 1206h10v11h-10zM475 1206h11v11h-11z"/>
<path fill="#000099" d="M382 1009h10v12h-10zM527 1009h11v12h-11zM350 1021h11v11h-11zM558 1021h11v11h-11zM454 1206h11v11h-11z"/>
<path fill="#0000ab" d="M413 1009h10v12h-10zM496 1009h10v12h-10zM298 1113h11v12h-11zM610 1113h11v12h-11z"/>
<path fill="#0000b2" d="M423 1009h11v12h-11zM486 1009h10v12h-10zM330 1136h10v12h-10zM579 1136h11v12h-11z"/>
<path fill="#0000b8" d="M434 1009h10v12h-10zM475 1009h11v12h-11zM298 1090h11v12h-11zM610 1090h11v12h-11z"/>
<path fill="#0000bd" d="M444 1009h10v12h-10zM465 1009h10v12h-10zM319 1125h11v11h-11zM590 1125h10v11h-10z"/>
<path fill="#0000c2" d="M454 1009h11v12h-11zM371 1032h11v12h-11zM538 1032h10v12h-10zM340 1044h10v12h-10zM569 1044h10v12h-10zM371 1148h11v12h-11zM538 1148h10v12h-10z"/>
<path fill="#00008c" d="M319 1021h11v11h-11zM590 1021h10v11h-10zM330 1171h10v12h-10zM579 1171h11v12h-11zM434 1217h10v12h-10zM475 1217h11v12h-11z"/>
<path fill="#00009f" d="M361 1021h10v11h-10zM548 1021h10v11h-10z"/>
<path fill="#0000a5" d="M371 1021h11v11h-11zM538 1021h10v11h-10z"/>
<path fill="#0000ad" d="M382 1021h10v11h-10zM527 1021h11v11h-11zM298 1067h11v12h-11zM610 1067h11v12h-11zM309 1125h10v11h-10zM600 1125h10v11h-10z"/>
<path fill="#0000b5" d="M392 1021h10v11h-10zM517 1021h10v11h-10zM330 1044h10v12h-10zM579 1044h11v12h-11zM382 1160h10v11h-10zM527 1160h11v11h-11zM434 1183h10v11h-10zM475 1183h11v11h-11z"/>
<path fill="#0000bf" d="M402 1021h11v11h-11zM506 1021h11v11h-11zM454 1183h11v11h-11z"/>
<path fill="#0000cc" d="M413 1021h10v11h-10zM496 1021h10v11h-10z"/>
<path fill="#0000d8" d="M423 1021h11v11h-11zM486 1021h10v11h-10z"/>
<path fill="#0000e3" d="M434 1021h10v11h-10zM475 1021h11v11h-11zM340 1125h10v11h-10zM569 1125h10v11h-10z"/>
<path fill="#0000ed" d="M444 1021h10v11h-10zM465 1021h10v11h-10z"/>
<path fill="#0000f5" d="M454 1021h11v11h-11zM434 1160h10v11h-10zM475 1160h11v11h-11z"/>
<path fill="#00009c" d="M330 1032h10v12h-10zM579 1032h11v12h-11zM288 1067h10v12h-10zM621 1067h10v12h-10zM330 1148h10v12h-10zM579 1148h11v12h-11zM392 1183h10v11h-10zM517 1183h10v11h-10z"/>
<path fill="#0000ac" d="M350 1032h11v12h-11zM558 1032h11v12h-11zM350 1148h11v12h-11zM558 1148h11v12h-11zM371 1160h11v11h-11zM538 1160h10v11h-10z"/>
<path fill="#0000b7" d="M361 1032h10v12h-10zM548 1032h10v12h-10zM361 1148h10v12h-10zM548 1148h10v12h-10z"/>
<path fill="#0000d1" d="M382 1032h10v12h-10zM527 1032h11v12h-11zM350 1136h11v12h-11zM558 1136h11v12h-11zM382 1148h10v12h-10zM527 1148h11v12h-11z"/>
<path fill="#0000df" d="M392 1032h10v12h-10zM517 1032h10v12h-10zM392 1148h10v12h-10zM517 1148h10v12h-10z"/>
<path fill="#0000f0" d="M402 1032h11v12h-11zM506 1032h11v12h-11zM402 1148h11v12h-11zM506 1148h11v12h-11z"/>
<path fill="#0008ff" d="M413 1032h10v12h-10zM496 1032h10v12h-10zM340 1113h10v12h-10zM569 1113h10v12h-10zM413 1148h10v12h-10zM496 1148h10v12h-10z"/>
<path fill="#001eff" d="M423 1032h11v12h-11zM486 1032h10v12h-10zM423 1148h11v12h-11zM486 1148h10v12h-10z"/>
<path fill="#0032ff" d="M434 1032h10v12h-10zM475 1032h11v12h-11zM350 1067h11v12h-11zM558 1067h11v12h-11zM434 1148h10v12h-10zM475 1148h11v12h-11z"/>
<path fill="#0044ff" d="M444 1032h10v12h-10zM465 1032h10v12h-10zM444 1148h10v12h-10zM465 1148h10v12h-10z"/>
<path fill="#0052ff" d="M454 1032h11v12h-11zM454 1148h11v12h-11z"/>
<path fill="#0000a9" d="M319 1044h11v12h-11zM590 1044h10v12h-10zM392 1171h10v12h-10zM517 1171h10v12h-10zM413 1183h10v11h-10zM496 1183h10v11h-10z"/>
<path fill="#0000d4" d="M350 1044h11v12h-11zM558 1044h11v12h-11z"/>
<path fill="#0000e8" d="M361 1044h10v12h-10zM548 1044h10v12h-10z"/>
<path fill="#0000fd" d="M371 1044h11v12h-11zM538 1044h10v12h-10z"/>
<path fill="#001aff" d="M382 1044h10v12h-10zM527 1044h11v12h-11z"/>
<path fill="#0033ff" d="M392 1044h10v12h-10zM517 1044h10v12h-10z"/>
<path fill="#0055ff" d="M402 1044h11v12h-11zM506 1044h11v12h-11z"/>
<path fill="#0080ff" d="M413 1044h10v12h-10zM496 1044h10v12h-10z"/>
<path fill="#00a9ff" d="M423 1044h11v12h-11zM486 1044h10v12h-10z"/>
<path fill="#00ceff" d="M434 1044h10v12h-10zM475 1044h11v12h-11z"/>
<path fill="#00f0ff" d="M444 1044h10v12h-10zM465 1044h10v12h-10z"/>
<path fill="#0afff5" d="M454 1044h11v12h-11z"/>
<path fill="#0000a2" d="M298 1056h11v11h-11zM610 1056h11v11h-11zM402 1183h11v11h-11zM506 1183h11v11h-11zM434 1194h10v12h-10zM475 1194h11v12h-11z"/>
<path fill="#0000b0" d="M309 1056h10v11h-10zM600 1056h10v11h-10z"/>
<path fill="#0000c1" d="M319 1056h11v11h-11zM590 1056h10v11h-10z"/>
<path fill="#0000d3" d="M330 1056h10v11h-10zM579 1056h11v11h-11zM319 1113h11v12h-11zM590 1113h10v12h-10z"/>
<path fill="#0000e9" d="M340 1056h10v11h-10zM569 1056h10v11h-10z"/>
<path fill="#0006ff" d="M350 1056h11v11h-11zM558 1056h11v11h-11z"/>
<path fill="#0025ff" d="M361 1056h10v11h-10zM548 1056h10v11h-10z"/>
<path fill="#0048ff" d="M371 1056h11v11h-11zM538 1056h10v11h-10z"/>
<path fill="#0073ff" d="M382 1056h10v11h-10zM527 1056h11v11h-11z"/>
<path fill="#009cff" d="M392 1056h10v11h-10zM517 1056h10v11h-10z"/>
<path fill="#00d0ff" d="M402 1056h11v11h-11zM506 1056h11v11h-11z"/>
<path fill="#16ffe9" d="M413 1056h10v11h-10zM496 1056h10v11h-10z"/>
<path fill="#57ffa8" d="M423 1056h11v11h-11zM486 1056h10v11h-10z"/>
<path fill="#92ff6d" d="M434 1056h10v11h-10zM475 1056h11v11h-11z"/>
<path fill="#c7ff38" d="M444 1056h10v11h-10zM465 1056h10v11h-10z"/>
<path fill="#f0ff0f" d="M454 1056h11v11h-11z"/>
<path fill="#0000c0" d="M309 1067h10v12h-10zM600 1067h10v12h-10zM340 1136h10v12h-10zM569 1136h10v12h-10z"/>
<path fill="#0000d6" d="M319 1067h11v12h-11zM590 1067h10v12h-10z"/>
<path fill="#0000ef" d="M330 1067h10v12h-10zM579 1067h11v12h-11z"/>
<path fill="#000dff" d="M340 1067h10v12h-10zM569 1067h10v12h-10z"/>
<path fill="#005bff" d="M361 1067h10v12h-10zM548 1067h10v12h-10z"/>
<path fill="#0089ff" d="M371 1067h11v12h-11zM538 1067h10v12h-10z"/>
<path fill="#00c3ff" d="M382 1067h10v12h-10zM527 1067h11v12h-11z"/>
<path fill="#00f8ff" d="M392 1067h10v12h-10zM517 1067h10v12h-10z"/>
<path fill="#40ffbf" d="M402 1067h11v12h-11zM506 1067h11v12h-11z"/>
<path fill="#9bff64" d="M413 1067h10v12h-10zM496 1067h10v12h-10z"/>
<path fill="#f1ff0e" d="M423 1067h11v12h-11zM486 1067h10v12h-10zM413 1079h10v11h-10zM496 1079h10v11h-10z"/>
<path fill="#ffbe00" d="M434 1067h10v12h-10zM475 1067h11v12h-11z"/>
<path fill="#ff7800" d="M444 1067h10v12h-10zM465 1067h10v12h-10z"/>
<path fill="#ff4200" d="M454 1067h11v12h-11z"/>
<path fill="#0000b4" d="M298 1079h11v11h-11zM610 1079h11v11h-11z"/>
<path fill="#0000ca" d="M309 1079h10v11h-10zM600 1079h10v11h-10zM402 1160h11v11h-11zM506 1160h11v11h-11z"/>
<path fill="#0000e4" d="M319 1079h11v11h-11zM590 1079h10v11h-10zM361 1136h10v12h-10zM548 1136h10v12h-10z"/>
<path fill="#0002ff" d="M330 1079h10v11h-10zM579 1079h11v11h-11z"/>
<path fill="#0023ff" d="M340 1079h10v11h-10zM569 1079h10v11h-10z"/>
<path fill="#004fff" d="M350 1079h11v11h-11zM558 1079h11v11h-11z"/>
<path fill="#007fff" d="M361 1079h10v11h-10zM548 1079h10v11h-10zM371 1113h11v12h-11zM538 1113h10v12h-10z"/>
<path fill="#00b3ff" d="M371 1079h11v11h-11zM538 1079h10v11h-10z"/>
<path fill="#00f6ff" d="M382 1079h10v11h-10zM527 1079h11v11h-11z"/>
<path fill="#36ffc9" d="M392 1079h10v11h-10zM517 1079h10v11h-10z"/>
<path fill="#87ff78" d="M402 1079h11v11h-11zM506 1079h11v11h-11zM413 1113h10v12h-10zM496 1113h10v12h-10z"/>
<path fill="#ffa900" d="M423 1079h11v11h-11zM486 1079h10v11h-10z"/>
<path fill="#ff4e00" d="M434 1079h10v11h-10zM475 1079h11v11h-11z"/>
<path fill="#fb0000" d="M444 1079h10v11h-10zM465 1079h10v11h-10z"/>
<path fill="#bd0000" d="M454 1079h11v11h-11z"/>
<path fill="#0000cf" d="M309 1090h10v12h-10zM600 1090h10v12h-10zM330 1125h10v11h-10zM579 1125h11v11h-11z"/>
<path fill="#0000eb" d="M319 1090h11v12h-11zM590 1090h10v12h-10zM330 1113h10v12h-10zM579 1113h11v12h-11z"/>
<path fill="#000aff" d="M330 1090h10v12h-10zM579 1090h11v12h-11zM454 1160h11v11h-11z"/>
<path fill="#002eff" d="M340 1090h10v12h-10zM569 1090h10v12h-10z"/>
<path fill="#005cff" d="M350 1090h11v12h-11zM558 1090h11v12h-11z"/>
<path fill="#008fff" d="M361 1090h10v12h-10zM548 1090h10v12h-10z"/>
<path fill="#00c7ff" d="M371 1090h11v12h-11zM538 1090h10v12h-10z"/>
<path fill="#0ffff0" d="M382 1090h10v12h-10zM527 1090h11v12h-11z"/>
<path fill="#52ffad" d="M392 1090h10v12h-10zM517 1090h10v12h-10z"/>
<path fill="#a8ff57" d="M402 1090h11v12h-11zM506 1090h11v12h-11z"/>
<path fill="#ffe500" d="M413 1090h10v12h-10zM496 1090h10v12h-10z"/>
<path fill="#ff7a00" d="M423 1090h11v12h-11zM486 1090h10v12h-10z"/>
<path fill="#ff1a00" d="M434 1090h10v12h-10zM475 1090h11v12h-11z"/>
<path fill="#c20000" d="M444 1090h10v12h-10zM465 1090h10v12h-10z"/>
<path fill="#800000" d="M454 1090h11v12h-11z"/>
<path fill="#0000a0" d="M288 1102h10v11h-10zM621 1102h10v11h-10zM298 1125h11v11h-11zM610 1125h11v11h-11z"/>
<path fill="#0000b3" d="M298 1102h11v11h-11zM610 1102h11v11h-11z"/>
<path fill="#0000c9" d="M309 1102h10v11h-10zM600 1102h10v11h-10z"/>
<path fill="#0000e2" d="M319 1102h11v11h-11zM590 1102h10v11h-10z"/>
<path fill="#0000fe" d="M330 1102h10v11h-10zM579 1102h11v11h-11zM350 1125h11v11h-11zM558 1125h11v11h-11z"/>
<path fill="#0020ff" d="M340 1102h10v11h-10zM569 1102h10v11h-10z"/>
<path fill="#004aff" d="M350 1102h11v11h-11zM558 1102h11v11h-11z"/>
<path fill="#0079ff" d="M361 1102h10v11h-10zM548 1102h10v11h-10z"/>
<path fill="#00adff" d="M371 1102h11v11h-11zM538 1102h10v11h-10z"/>
<path fill="#00eeff" d="M382 1102h10v11h-10zM527 1102h11v11h-11z"/>
<path fill="#2cffd3" d="M392 1102h10v11h-10zM517 1102h10v11h-10z"/>
<path fill="#7cff83" d="M402 1102h11v11h-11zM506 1102h11v11h-11z"/>
<path fill="#e3ff1c" d="M413 1102h10v11h-10zM496 1102h10v11h-10z"/>
<path fill="#ffb800" d="M423 1102h11v11h-11zM486 1102h10v11h-10z"/>
<path fill="#ff5f00" d="M434 1102h10v11h-10zM475 1102h11v11h-11z"/>
<path fill="#ff0f00" d="M444 1102h10v11h-10zM465 1102h10v11h-10z"/>
<path fill="#d10000" d="M454 1102h11v11h-11z"/>
<path fill="#00009b" d="M288 1113h10v12h-10zM621 1113h10v12h-10z"/>
<path fill="#0000be" d="M309 1113h10v12h-10zM600 1113h10v12h-10zM392 1160h10v11h-10zM517 1160h10v11h-10z"/>
<path fill="#002cff" d="M350 1113h11v12h-11zM558 1113h11v12h-11zM392 1136h10v12h-10zM517 1136h10v12h-10z"/>
<path fill="#0053ff" d="M361 1113h10v12h-10zM548 1113h10v12h-10z"/>
<path fill="#00b7ff" d="M382 1113h10v12h-10zM527 1113h11v12h-11z"/>
<path fill="#00eaff" d="M392 1113h10v12h-10zM517 1113h10v12h-10z"/>
<path fill="#2fffd0" d="M402 1113h11v12h-11zM506 1113h11v12h-11z"/>
<path fill="#daff25" d="M423 1113h11v12h-11zM486 1113h10v12h-10z"/>
<path fill="#ffd800" d="M434 1113h10v12h-10zM475 1113h11v12h-11z"/>
<path fill="#ff9500" d="M444 1113h10v12h-10zM465 1113h10v12h-10z"/>
<path fill="#ff6100" d="M454 1113h11v12h-11z"/>
<path fill="#00008a" d="M278 1125h10v11h-10zM631 1125h11v11h-11zM309 1160h10v11h-10zM600 1160h10v11h-10zM340 1183h10v11h-10zM569 1183h10v11h-10zM361 1194h10v12h-10zM548 1194h10v12h-10zM423 1217h11v12h-11zM486 1217h10v12h-10z"/>
<path fill="#000094" d="M288 1125h10v11h-10zM621 1125h10v11h-10zM298 1136h11v12h-11zM610 1136h11v12h-11zM371 1183h11v11h-11zM538 1183h10v11h-10z"/>
<path fill="#001cff" d="M361 1125h10v11h-10zM548 1125h10v11h-10z"/>
<path fill="#003cff" d="M371 1125h11v11h-11zM538 1125h10v11h-10z"/>
<path fill="#0065ff" d="M382 1125h10v11h-10zM527 1125h11v11h-11z"/>
<path fill="#008bff" d="M392 1125h10v11h-10zM517 1125h10v11h-10z"/>
<path fill="#00bdff" d="M402 1125h11v11h-11zM506 1125h11v11h-11z"/>
<path fill="#00feff" d="M413 1125h10v11h-10zM496 1125h10v11h-10z"/>
<path fill="#3cffc3" d="M423 1125h11v11h-11zM486 1125h10v11h-10z"/>
<path fill="#74ff8b" d="M434 1125h10v11h-10zM475 1125h11v11h-11z"/>
<path fill="#a6ff59" d="M444 1125h10v11h-10zM465 1125h10v11h-10z"/>
<path fill="#ccff33" d="M454 1125h11v11h-11z"/>
<path fill="#00009d" d="M309 1136h10v12h-10zM600 1136h10v12h-10zM350 1160h11v11h-11zM558 1160h11v11h-11zM371 1171h11v12h-11zM538 1171h10v12h-10z"/>
<path fill="#0000a7" d="M319 1136h11v12h-11zM590 1136h10v12h-10z"/>
<path fill="#0000f8" d="M371 1136h11v12h-11zM538 1136h10v12h-10z"/>
<path fill="#0014ff" d="M382 1136h10v12h-10zM527 1136h11v12h-11z"/>
<path fill="#004cff" d="M402 1136h11v12h-11zM506 1136h11v12h-11z"/>
<path fill="#0076ff" d="M413 1136h10v12h-10zM496 1136h10v12h-10z"/>
<path fill="#009dff" d="M423 1136h11v12h-11zM486 1136h10v12h-10z"/>
<path fill="#00c1ff" d="M434 1136h10v12h-10zM475 1136h11v12h-11z"/>
<path fill="#00e1ff" d="M444 1136h10v12h-10zM465 1136h10v12h-10z"/>
<path fill="#00faff" d="M454 1136h11v12h-11z"/>
<path fill="#0000a4" d="M361 1160h10v11h-10zM548 1160h10v11h-10z"/>
<path fill="#0000d9" d="M413 1160h10v11h-10zM496 1160h10v11h-10z"/>
<path fill="#0000e7" d="M423 1160h11v11h-11zM486 1160h10v11h-10z"/>
<path fill="#0001ff" d="M444 1160h10v11h-10zM465 1160h10v11h-10z"/>
<path fill="#000098" d="M361 1171h10v12h-10zM548 1171h10v12h-10zM382 1183h10v11h-10zM527 1183h11v11h-11z"/>
<path fill="#0000b1" d="M402 1171h11v12h-11zM506 1171h11v12h-11z"/>
<path fill="#0000bb" d="M413 1171h10v12h-10zM496 1171h10v12h-10zM444 1183h10v11h-10zM465 1183h10v11h-10z"/>
<path fill="#0000c5" d="M423 1171h11v12h-11zM486 1171h10v12h-10z"/>
<path fill="#0000ce" d="M434 1171h10v12h-10zM475 1171h11v12h-11z"/>
<path fill="#0000d5" d="M444 1171h10v12h-10zM465 1171h10v12h-10z"/>
<path fill="#0000db" d="M454 1171h11v12h-11z"/>
<path fill="#0000af" d="M423 1183h11v11h-11zM486 1183h10v11h-10z"/>
<path fill="#000096" d="M402 1194h11v12h-11zM506 1194h11v12h-11z"/>
<path fill="#0000a6" d="M444 1194h10v12h-10zM465 1194h10v12h-10z"/>
<path fill="#0000a8" d="M454 1194h11v12h-11z"/></g>
<path d="M199.7 810.0h5M199.7 829.2h5M199.7 848.4h9M199.7 867.6h5M199.7 886.8h5M199.7 906.0h5M199.7 925.2h5M199.7 944.4h5M199.7 963.6h9M199.7 982.8h5M199.7 1002.0h5M199.7 1021.2h5M199.7 1040.4h5M199.7 1059.6h5M199.7 1078.8h9M199.7 1098.0h5M199.7 1117.2h5M199.7 1136.4h5M199.7 1155.6h5M199.7 1174.8h5M199.7 1194.0h9M199.7 1213.2h5M199.7 1232.4h5M199.7 1251.6h5M199.7 1270.8h5M199.7 1290.0h5M199.7 1309.2h9M199.7 1328.4h5M199.7 1347.6h5M199.7 1366.8h5M220.2 1384.5v-8.5M379.8 1384.5v-8.5M459.6 1384.5v-8.5M619.2 1384.5v-8.5M339.9 1384.5v-4.5M499.5 1384.5v-4.5" stroke="#000018" stroke-width="1.6" fill="none"/>
<path d="M261.00 1384.50V974.60M659.00 1384.50V974.60" stroke="#000" stroke-width="2.20" fill="none"/>
<path d="M259.90 976.10H454.00M466.00 976.10H660.10" stroke="#000" stroke-width="3.00" fill="none"/>
<path d="M452.50 821.80H467.50" stroke="#000" stroke-width="2.60" fill="none"/>
<path d="M454.00 859.80H466.00" stroke="#000" stroke-width="2.20" fill="none"/>
<path d="M454.00 977.60V821.80M466.00 977.60V821.80" stroke="#000" stroke-width="3.00" fill="none"/>
<rect x="261.00" y="1051.70" width="398.00" height="2.40" fill="#000"/>
<rect x="261.00" y="1092.70" width="398.00" height="5.60" fill="#000"/>
<rect x="261.00" y="1136.00" width="398.00" height="2.20" fill="#000"/>
<rect x="199.70" y="1384.10" width="527.30" height="1.60" fill="#000"/>
<path d="M200.40 786.30L206.00 801.80L194.80 801.80z" fill="#000"/>
<path d="M739.90 1384.90L725.90 1380.10L725.90 1389.70z" fill="#000"/>
<text class="t" x="176.30" y="821.60" font-size="46.35" text-anchor="end">3.4</text>
<text class="t" x="176.30" y="882.90" font-size="46.35" text-anchor="end">3.1</text>
<text class="t" x="176.30" y="950.50" font-size="46.35" text-anchor="end">2.8</text>
<text class="t" x="176.30" y="1014.00" font-size="46.35" text-anchor="end">2.5</text>
<text class="t" x="176.30" y="1077.40" font-size="46.35" text-anchor="end">2.2</text>
<text class="t" x="176.30" y="1140.70" font-size="46.35" text-anchor="end">1.9</text>
<text class="t" x="176.30" y="1206.20" font-size="46.35" text-anchor="end">1.6</text>
<text class="t" x="176.30" y="1272.20" font-size="46.35" text-anchor="end">1.3</text>
<text class="t" x="176.30" y="1337.10" font-size="46.35" text-anchor="end">1.0</text>
<text class="t" x="176.30" y="1398.00" font-size="46.35" text-anchor="end">0.7</text>
<text class="t" transform="translate(137.95 1445.44) scale(1.0122 1)" font-size="46.35">−10</text>
<text class="t" transform="translate(250.13 1445.44) scale(0.9814 1)" font-size="46.35">10</text>
<text class="t" transform="translate(342.13 1445.44) scale(1.0218 1)" font-size="46.35">30</text>
<text class="t" transform="translate(426.50 1445.44) scale(1.0428 1)" font-size="46.35">50</text>
<text class="t" transform="translate(517.72 1445.44) scale(1.0558 1)" font-size="46.35">70</text>
<text class="t" transform="translate(614.68 1445.44) scale(1.0184 1)" font-size="46.35">90</text>
<text class="t" transform="translate(691.69 1445.44) scale(0.9934 1)" font-size="46.35">110</text>
<text class="t" transform="translate(297.59 1538.97) scale(0.9760 1)" font-size="61.99">y (microns)</text>
<text class="t" transform="translate(55.97 1215.50) rotate(-90) scale(0.9833 1)" font-size="61.11">z (microns)</text>
<text class="t" transform="translate(9.50 874.60) scale(1.0603 1)" font-size="52.38">(d)</text>
</g>
<g id="pe">
<rect x="986.80" y="815.80" width="515.70" height="572.50" fill="#000080"/>
<clipPath id="ce"><rect x="986.80" y="815.80" width="515.70" height="572.50"/></clipPath>
<g clip-path="url(#ce)"><path fill="#000082" d="M1229 970h10v12h-10zM1250 970h10v12h-10zM1219 982h10v11h-10zM1260 982h10v11h-10zM1209 993h10v12h-10zM1270 993h11v12h-11zM1188 1028h10v11h-10zM1291 1028h10v11h-10zM1178 1051h10v11h-10zM1301 1051h11v11h-11zM1178 1142h10v12h-10zM1301 1142h11v12h-11zM1188 1165h10v11h-10zM1291 1165h10v11h-10zM1198 1199h11v12h-11zM1281 1199h10v12h-10zM1219 1234h10v11h-10zM1260 1234h10v11h-10zM1229 1245h10v12h-10zM1250 1245h10v12h-10z"/>
<path fill="#000083" d="M1239 970h11v12h-11zM1198 1016h11v12h-11zM1281 1016h10v12h-10zM1178 1062h10v11h-10zM1301 1062h11v11h-11zM1178 1131h10v11h-10zM1301 1131h11v11h-11zM1198 1188h11v11h-11zM1281 1188h10v11h-10zM1209 1211h10v11h-10zM1270 1211h11v11h-11zM1239 1245h11v12h-11z"/>
<path fill="#000081" d="M1209 982h10v11h-10zM1270 982h11v11h-11zM1198 1005h11v11h-11zM1281 1005h10v11h-10zM1188 1016h10v12h-10zM1291 1016h10v12h-10zM1178 1039h10v12h-10zM1301 1039h11v12h-11zM1178 1154h10v11h-10zM1301 1154h11v11h-11zM1188 1176h10v12h-10zM1291 1176h10v12h-10zM1188 1188h10v11h-10zM1291 1188h10v11h-10zM1198 1211h11v11h-11zM1281 1211h10v11h-10zM1209 1222h10v12h-10zM1270 1222h11v12h-11z"/>
<path fill="#000085" d="M1229 982h10v11h-10zM1250 982h10v11h-10zM1219 993h10v12h-10zM1260 993h10v12h-10zM1178 1085h10v11h-10zM1301 1085h11v11h-11zM1178 1108h10v11h-10zM1301 1108h11v11h-11zM1209 1199h10v12h-10zM1270 1199h11v12h-11z"/>
<path fill="#000088" d="M1239 982h11v11h-11zM1209 1016h10v12h-10zM1270 1016h11v12h-11zM1209 1188h10v11h-10zM1270 1188h11v11h-11zM1219 1211h10v11h-10zM1260 1211h10v11h-10z"/>
<path fill="#00008c" d="M1229 993h10v12h-10zM1250 993h10v12h-10zM1188 1062h10v11h-10zM1291 1062h10v11h-10zM1209 1176h10v12h-10zM1270 1176h11v12h-11z"/>
<path fill="#000092" d="M1239 993h11v12h-11zM1188 1108h10v11h-10zM1291 1108h10v11h-10zM1209 1165h10v11h-10zM1270 1165h11v11h-11z"/>
<path fill="#000084" d="M1209 1005h10v11h-10zM1270 1005h11v11h-11zM1188 1039h10v12h-10zM1291 1039h10v12h-10zM1178 1073h10v12h-10zM1301 1073h11v12h-11zM1178 1119h10v12h-10zM1301 1119h11v12h-11zM1188 1154h10v11h-10zM1291 1154h10v11h-10zM1198 1176h11v12h-11zM1281 1176h10v12h-10zM1219 1222h10v12h-10zM1260 1222h10v12h-10zM1229 1234h10v11h-10zM1250 1234h10v11h-10z"/>
<path fill="#00008b" d="M1219 1005h10v11h-10zM1260 1005h10v11h-10zM1198 1039h11v12h-11zM1281 1039h10v12h-10zM1188 1131h10v11h-10zM1291 1131h10v11h-10zM1198 1154h11v11h-11zM1281 1154h10v11h-10z"/>
<path fill="#000098" d="M1229 1005h10v11h-10zM1250 1005h10v11h-10z"/>
<path fill="#0000a3" d="M1239 1005h11v11h-11z"/>
<path fill="#000095" d="M1219 1016h10v12h-10zM1260 1016h10v12h-10z"/>
<path fill="#0000ad" d="M1229 1016h10v12h-10zM1250 1016h10v12h-10z"/>
<path fill="#0000c2" d="M1239 1016h11v12h-11zM1219 1039h10v12h-10zM1260 1039h10v12h-10zM1219 1154h10v11h-10zM1260 1154h10v11h-10z"/>
<path fill="#000086" d="M1198 1028h11v11h-11zM1281 1028h10v11h-10zM1178 1096h10v12h-10zM1301 1096h11v12h-11z"/>
<path fill="#00008f" d="M1209 1028h10v11h-10zM1270 1028h11v11h-11zM1188 1119h10v12h-10zM1291 1119h10v12h-10z"/>
<path fill="#0000a5" d="M1219 1028h10v11h-10zM1260 1028h10v11h-10z"/>
<path fill="#0000d0" d="M1229 1028h10v11h-10zM1250 1028h10v11h-10z"/>
<path fill="#0000f5" d="M1239 1028h11v11h-11z"/>
<path fill="#00009b" d="M1209 1039h10v12h-10zM1270 1039h11v12h-11zM1209 1154h10v11h-10zM1270 1154h11v11h-11z"/>
<path fill="#0011ff" d="M1229 1039h10v12h-10zM1250 1039h10v12h-10zM1229 1154h10v11h-10zM1250 1154h10v11h-10z"/>
<path fill="#0052ff" d="M1239 1039h11v12h-11zM1239 1154h11v11h-11z"/>
<path fill="#000087" d="M1188 1051h10v11h-10zM1291 1051h10v11h-10zM1188 1142h10v12h-10zM1291 1142h10v12h-10zM1198 1165h11v11h-11zM1281 1165h10v11h-10zM1239 1234h11v11h-11z"/>
<path fill="#000094" d="M1198 1051h11v11h-11zM1281 1051h10v11h-10zM1188 1096h10v12h-10zM1291 1096h10v12h-10zM1198 1142h11v12h-11zM1281 1142h10v12h-10zM1219 1188h10v11h-10zM1260 1188h10v11h-10z"/>
<path fill="#0000b4" d="M1209 1051h10v11h-10zM1270 1051h11v11h-11z"/>
<path fill="#0000fd" d="M1219 1051h10v11h-10zM1260 1051h10v11h-10z"/>
<path fill="#008fff" d="M1229 1051h10v11h-10zM1250 1051h10v11h-10z"/>
<path fill="#0afff5" d="M1239 1051h11v11h-11z"/>
<path fill="#0000a0" d="M1198 1062h11v11h-11zM1281 1062h10v11h-10z"/>
<path fill="#0000d2" d="M1209 1062h10v11h-10zM1270 1062h11v11h-11z"/>
<path fill="#0048ff" d="M1219 1062h10v11h-10zM1260 1062h10v11h-10z"/>
<path fill="#2fffd0" d="M1229 1062h10v11h-10zM1250 1062h10v11h-10z"/>
<path fill="#f0ff0f" d="M1239 1062h11v11h-11z"/>
<path fill="#000090" d="M1188 1073h10v12h-10zM1291 1073h10v12h-10z"/>
<path fill="#0000ab" d="M1198 1073h11v12h-11zM1281 1073h10v12h-10zM1229 1188h10v11h-10zM1250 1188h10v11h-10z"/>
<path fill="#0000ed" d="M1209 1073h10v12h-10zM1270 1073h11v12h-11z"/>
<path fill="#0089ff" d="M1219 1073h10v12h-10zM1260 1073h10v12h-10z"/>
<path fill="#bcff43" d="M1229 1073h10v12h-10zM1250 1073h10v12h-10z"/>
<path fill="#ff4200" d="M1239 1073h11v12h-11z"/>
<path fill="#000093" d="M1188 1085h10v11h-10zM1291 1085h10v11h-10z"/>
<path fill="#0000b2" d="M1198 1085h11v11h-11zM1281 1085h10v11h-10zM1209 1142h10v12h-10zM1270 1142h11v12h-11z"/>
<path fill="#0000ff" d="M1209 1085h10v11h-10zM1270 1085h11v11h-11z"/>
<path fill="#00b3ff" d="M1219 1085h10v11h-10zM1260 1085h10v11h-10z"/>
<path fill="#ffe700" d="M1229 1085h10v11h-10zM1250 1085h10v11h-10z"/>
<path fill="#bd0000" d="M1239 1085h11v11h-11z"/>
<path fill="#0000b6" d="M1198 1096h11v12h-11zM1281 1096h10v12h-10z"/>
<path fill="#0008ff" d="M1209 1096h10v12h-10zM1270 1096h11v12h-11z"/>
<path fill="#00c7ff" d="M1219 1096h10v12h-10zM1260 1096h10v12h-10z"/>
<path fill="#ffbd00" d="M1229 1096h10v12h-10zM1250 1096h10v12h-10z"/>
<path fill="#800000" d="M1239 1096h11v12h-11z"/>
<path fill="#0000b1" d="M1198 1108h11v11h-11zM1281 1108h10v11h-10z"/>
<path fill="#0000fc" d="M1209 1108h10v11h-10zM1270 1108h11v11h-11z"/>
<path fill="#00adff" d="M1219 1108h10v11h-10zM1260 1108h10v11h-10z"/>
<path fill="#fff500" d="M1229 1108h10v11h-10zM1250 1108h10v11h-10z"/>
<path fill="#d10000" d="M1239 1108h11v11h-11z"/>
<path fill="#0000aa" d="M1198 1119h11v12h-11zM1281 1119h10v12h-10z"/>
<path fill="#0000e9" d="M1209 1119h10v12h-10zM1270 1119h11v12h-11z"/>
<path fill="#007fff" d="M1219 1119h10v12h-10zM1260 1119h10v12h-10z"/>
<path fill="#a6ff59" d="M1229 1119h10v12h-10zM1250 1119h10v12h-10z"/>
<path fill="#ff6100" d="M1239 1119h11v12h-11z"/>
<path fill="#00009f" d="M1198 1131h11v11h-11zM1281 1131h10v11h-10z"/>
<path fill="#0000ce" d="M1209 1131h10v11h-10zM1270 1131h11v11h-11z"/>
<path fill="#003cff" d="M1219 1131h10v11h-10zM1260 1131h10v11h-10z"/>
<path fill="#16ffe9" d="M1229 1131h10v11h-10zM1250 1131h10v11h-10z"/>
<path fill="#ccff33" d="M1239 1131h11v11h-11z"/>
<path fill="#0000f8" d="M1219 1142h10v12h-10zM1260 1142h10v12h-10z"/>
<path fill="#0085ff" d="M1229 1142h10v12h-10zM1250 1142h10v12h-10z"/>
<path fill="#00faff" d="M1239 1142h11v12h-11z"/>
<path fill="#0000ac" d="M1219 1165h10v11h-10zM1260 1165h10v11h-10z"/>
<path fill="#0000df" d="M1229 1165h10v11h-10zM1250 1165h10v11h-10z"/>
<path fill="#000aff" d="M1239 1165h11v11h-11z"/>
<path fill="#00009d" d="M1219 1176h10v12h-10zM1260 1176h10v12h-10z"/>
<path fill="#0000bf" d="M1229 1176h10v12h-10zM1250 1176h10v12h-10zM1239 1188h11v11h-11z"/>
<path fill="#0000db" d="M1239 1176h11v12h-11z"/>
<path fill="#00008d" d="M1219 1199h10v12h-10zM1260 1199h10v12h-10z"/>
<path fill="#00009c" d="M1229 1199h10v12h-10zM1250 1199h10v12h-10z"/>
<path fill="#0000a8" d="M1239 1199h11v12h-11z"/>
<path fill="#000091" d="M1229 1211h10v11h-10zM1250 1211h10v11h-10z"/>
<path fill="#000099" d="M1239 1211h11v11h-11z"/>
<path fill="#000089" d="M1229 1222h10v12h-10zM1250 1222h10v12h-10z"/>
<path fill="#00008e" d="M1239 1222h11v12h-11z"/></g>
<path d="M986.8 818.8h5M986.8 837.8h5M986.8 856.8h9M986.8 875.9h5M986.8 894.9h5M986.8 913.9h5M986.8 933.0h5M986.8 952.0h5M986.8 971.0h9M986.8 990.1h5M986.8 1009.1h5M986.8 1028.1h5M986.8 1047.2h5M986.8 1066.2h5M986.8 1085.2h9M986.8 1104.3h5M986.8 1123.3h5M986.8 1142.3h5M986.8 1161.4h5M986.8 1180.4h5M986.8 1199.4h9M986.8 1218.5h5M986.8 1237.5h5M986.8 1256.6h5M986.8 1275.6h5M986.8 1294.6h5M986.8 1313.7h9M986.8 1332.7h5M986.8 1351.7h5M986.8 1370.8h5M1086.3 1388.3v-8.5M1165.5 1388.3v-8.5M1323.8 1388.3v-8.5M1125.9 1388.3v-4.5M1363.4 1388.3v-4.5" stroke="#000018" stroke-width="1.6" fill="none"/>
<path d="M1047.10 1388.30V1000.00M1442.80 1388.30V1000.00" stroke="#000" stroke-width="2.20" fill="none"/>
<path d="M1046.00 1001.10H1239.20M1251.10 1001.10H1443.90" stroke="#000" stroke-width="2.20" fill="none"/>
<path d="M1238.10 828.90H1252.20" stroke="#000" stroke-width="2.60" fill="none"/>
<path d="M1239.20 867.90H1251.10" stroke="#000" stroke-width="2.20" fill="none"/>
<path d="M1239.20 1002.20V828.90M1251.10 1002.20V828.90" stroke="#000" stroke-width="2.20" fill="none"/>
<rect x="1047.10" y="1057.30" width="395.70" height="2.80" fill="#000"/>
<rect x="1047.10" y="1096.30" width="395.70" height="3.60" fill="#000"/>
<rect x="1047.10" y="1103.00" width="395.70" height="2.60" fill="#000"/>
<rect x="1047.10" y="1139.90" width="395.70" height="2.80" fill="#000"/>
<rect x="1047.10" y="1099.90" width="395.70" height="3.10" fill="#000" fill-opacity="0.55"/>
<rect x="985.50" y="808.00" width="1.60" height="17.30" fill="#777"/>
<rect x="986.80" y="1387.90" width="522.20" height="1.80" fill="#666"/>
<path d="M986.50 793.80L992.30 809.20L980.70 809.20z" fill="#000"/>
<path d="M1524.00 1387.30L1508.30 1382.50L1508.30 1392.10z" fill="#000"/>
<text class="t" x="966.90" y="837.50" font-size="46.35" text-anchor="end">3.4</text>
<text class="t" x="966.90" y="898.20" font-size="46.35" text-anchor="end">3.1</text>
<text class="t" x="966.90" y="965.80" font-size="46.35" text-anchor="end">2.8</text>
<text class="t" x="966.90" y="1029.30" font-size="46.35" text-anchor="end">2.5</text>
<text class="t" x="966.90" y="1093.30" font-size="46.35" text-anchor="end">2.2</text>
<text class="t" x="966.90" y="1156.40" font-size="46.35" text-anchor="end">1.9</text>
<text class="t" x="966.90" y="1221.90" font-size="46.35" text-anchor="end">1.6</text>
<text class="t" x="966.90" y="1287.50" font-size="46.35" text-anchor="end">1.3</text>
<text class="t" x="966.90" y="1353.00" font-size="46.35" text-anchor="end">1.0</text>
<text class="t" x="966.90" y="1413.30" font-size="46.35" text-anchor="end">0.7</text>
<text class="t" transform="translate(932.78 1445.44) scale(1.0020 1)" font-size="46.35">−10</text>
<text class="t" transform="translate(1044.23 1445.44) scale(0.9814 1)" font-size="46.35">10</text>
<text class="t" transform="translate(1135.49 1445.44) scale(1.0408 1)" font-size="46.35">30</text>
<text class="t" transform="translate(1220.60 1445.44) scale(1.0428 1)" font-size="46.35">50</text>
<text class="t" transform="translate(1311.07 1445.44) scale(1.0727 1)" font-size="46.35">70</text>
<text class="t" transform="translate(1408.76 1445.44) scale(1.0347 1)" font-size="46.35">90</text>
<text class="t" transform="translate(1486.49 1445.44) scale(0.9918 1)" font-size="46.35">110</text>
<text class="t" transform="translate(1091.40 1538.97) scale(0.9725 1)" font-size="61.99">y (microns)</text>
<text class="t" transform="translate(861.83 1215.50) rotate(-90) scale(0.9959 1)" font-size="60.33">z (microns)</text>
<text class="t" transform="translate(815.68 882.74) scale(1.0629 1)" font-size="52.67">(e)</text>
</g>
<g id="pf">
<rect x="1755.50" y="817.00" width="511.10" height="566.90" fill="#000080"/>
<clipPath id="cf"><rect x="1755.50" y="817.00" width="511.10" height="566.90"/></clipPath>
<g clip-path="url(#cf)"><path fill="#000081" d="M1996 970h10v11h-10zM2016 970h10v11h-10zM1985 981h11v12h-11zM2026 981h11v12h-11zM1975 1004h10v11h-10zM2037 1004h10v11h-10zM1965 1015h10v12h-10zM2047 1015h10v12h-10zM1955 1038h10v11h-10zM2057 1038h10v11h-10zM1955 1151h10v12h-10zM2057 1151h10v12h-10zM1965 1174h10v11h-10zM2047 1174h10v11h-10zM1965 1185h10v12h-10zM2047 1185h10v12h-10zM1975 1208h10v11h-10zM2037 1208h10v11h-10zM1985 1219h11v12h-11zM2026 1219h11v12h-11zM1996 1242h10v12h-10zM2016 1242h10v12h-10z"/>
<path fill="#000083" d="M2006 970h10v11h-10zM1975 1015h10v12h-10zM2037 1015h10v12h-10zM1955 1061h10v11h-10zM2057 1061h10v11h-10zM1955 1129h10v11h-10zM2057 1129h10v11h-10zM1975 1185h10v12h-10zM2037 1185h10v12h-10zM1985 1208h11v11h-11zM2026 1208h11v11h-11zM1996 1231h10v11h-10zM2016 1231h10v11h-10zM2006 1242h10v12h-10z"/>
<path fill="#000084" d="M1996 981h10v12h-10zM2016 981h10v12h-10zM1985 1004h11v11h-11zM2026 1004h11v11h-11zM1965 1038h10v11h-10zM2047 1038h10v11h-10zM1955 1072h10v11h-10zM2057 1072h10v11h-10zM1955 1117h10v12h-10zM2057 1117h10v12h-10zM1965 1151h10v12h-10zM2047 1151h10v12h-10zM1975 1174h10v11h-10zM2037 1174h10v11h-10z"/>
<path fill="#000088" d="M2006 981h10v12h-10zM1985 1185h11v12h-11zM2026 1185h11v12h-11z"/>
<path fill="#000082" d="M1985 993h11v11h-11zM2026 993h11v11h-11zM1965 1027h10v11h-10zM2047 1027h10v11h-10zM1955 1049h10v12h-10zM2057 1049h10v12h-10zM1955 1140h10v11h-10zM2057 1140h10v11h-10zM1965 1163h10v11h-10zM2047 1163h10v11h-10zM1975 1197h10v11h-10zM2037 1197h10v11h-10z"/>
<path fill="#000089" d="M1996 993h10v11h-10zM2016 993h10v11h-10zM1985 1015h11v12h-11zM2026 1015h11v12h-11z"/>
<path fill="#000092" d="M2006 993h10v11h-10zM1965 1106h10v11h-10zM2047 1106h10v11h-10z"/>
<path fill="#000093" d="M1996 1004h10v11h-10zM2016 1004h10v11h-10zM1965 1083h10v12h-10zM2047 1083h10v12h-10zM1985 1163h11v11h-11zM2026 1163h11v11h-11z"/>
<path fill="#0000a3" d="M2006 1004h10v11h-10zM1996 1015h10v12h-10zM2016 1015h10v12h-10z"/>
<path fill="#0000c2" d="M2006 1015h10v12h-10z"/>
<path fill="#000086" d="M1975 1027h10v11h-10zM2037 1027h10v11h-10zM1955 1095h10v11h-10zM2057 1095h10v11h-10z"/>
<path fill="#000090" d="M1985 1027h11v11h-11zM2026 1027h11v11h-11zM1965 1072h10v11h-10zM2047 1072h10v11h-10z"/>
<path fill="#0000bf" d="M1996 1027h10v11h-10zM2016 1027h10v11h-10zM2006 1185h10v12h-10z"/>
<path fill="#0000f5" d="M2006 1027h10v11h-10z"/>
<path fill="#00008b" d="M1975 1038h10v11h-10zM2037 1038h10v11h-10zM1965 1129h10v11h-10zM2047 1129h10v11h-10zM1975 1151h10v12h-10zM2037 1151h10v12h-10z"/>
<path fill="#00009d" d="M1985 1038h11v11h-11zM2026 1038h11v11h-11zM1985 1151h11v12h-11zM2026 1151h11v12h-11z"/>
<path fill="#0000f0" d="M1996 1038h10v11h-10zM2016 1038h10v11h-10zM1996 1151h10v12h-10zM2016 1151h10v12h-10z"/>
<path fill="#0052ff" d="M2006 1038h10v11h-10zM2006 1151h10v12h-10z"/>
<path fill="#000087" d="M1965 1049h10v12h-10zM2047 1049h10v12h-10zM1965 1140h10v11h-10zM2047 1140h10v11h-10zM1975 1163h10v11h-10zM2037 1163h10v11h-10zM1996 1219h10v12h-10zM2016 1219h10v12h-10zM2006 1231h10v11h-10z"/>
<path fill="#000095" d="M1975 1049h10v12h-10zM2037 1049h10v12h-10z"/>
<path fill="#0000b6" d="M1985 1049h11v12h-11zM2026 1049h11v12h-11z"/>
<path fill="#0055ff" d="M1996 1049h10v12h-10zM2016 1049h10v12h-10z"/>
<path fill="#0afff5" d="M2006 1049h10v12h-10z"/>
<path fill="#00008c" d="M1965 1061h10v11h-10zM2047 1061h10v11h-10zM1985 1174h11v11h-11zM2026 1174h11v11h-11z"/>
<path fill="#0000a1" d="M1975 1061h10v11h-10zM2037 1061h10v11h-10z"/>
<path fill="#0000d7" d="M1985 1061h11v11h-11zM2026 1061h11v11h-11z"/>
<path fill="#00d0ff" d="M1996 1061h10v11h-10zM2016 1061h10v11h-10z"/>
<path fill="#f0ff0f" d="M2006 1061h10v11h-10z"/>
<path fill="#0000ac" d="M1975 1072h10v11h-10zM2037 1072h10v11h-10z"/>
<path fill="#0000f3" d="M1985 1072h11v11h-11zM2026 1072h11v11h-11z"/>
<path fill="#40ffbf" d="M1996 1072h10v11h-10zM2016 1072h10v11h-10z"/>
<path fill="#ff4200" d="M2006 1072h10v11h-10z"/>
<path fill="#000085" d="M1955 1083h10v12h-10zM2057 1083h10v12h-10zM1955 1106h10v11h-10zM2057 1106h10v11h-10zM1985 1197h11v11h-11zM2026 1197h11v11h-11z"/>
<path fill="#0000b3" d="M1975 1083h10v12h-10zM2037 1083h10v12h-10z"/>
<path fill="#0007ff" d="M1985 1083h11v12h-11zM2026 1083h11v12h-11z"/>
<path fill="#87ff78" d="M1996 1083h10v12h-10zM2016 1083h10v12h-10z"/>
<path fill="#bd0000" d="M2006 1083h10v12h-10z"/>
<path fill="#000094" d="M1965 1095h10v11h-10zM2047 1095h10v11h-10zM1975 1140h10v11h-10zM2037 1140h10v11h-10z"/>
<path fill="#0000b7" d="M1975 1095h10v11h-10zM2037 1095h10v11h-10z"/>
<path fill="#000fff" d="M1985 1095h11v11h-11zM2026 1095h11v11h-11z"/>
<path fill="#a8ff57" d="M1996 1095h10v11h-10zM2016 1095h10v11h-10z"/>
<path fill="#800000" d="M2006 1095h10v11h-10z"/>
<path fill="#0000b2" d="M1975 1106h10v11h-10zM2037 1106h10v11h-10z"/>
<path fill="#0004ff" d="M1985 1106h11v11h-11zM2026 1106h11v11h-11z"/>
<path fill="#7cff83" d="M1996 1106h10v11h-10zM2016 1106h10v11h-10z"/>
<path fill="#d10000" d="M2006 1106h10v11h-10z"/>
<path fill="#00008f" d="M1965 1117h10v12h-10zM2047 1117h10v12h-10z"/>
<path fill="#0000aa" d="M1975 1117h10v12h-10zM2037 1117h10v12h-10z"/>
<path fill="#0000ef" d="M1985 1117h11v12h-11zM2026 1117h11v12h-11z"/>
<path fill="#2fffd0" d="M1996 1117h10v12h-10zM2016 1117h10v12h-10z"/>
<path fill="#ff6100" d="M2006 1117h10v12h-10z"/>
<path fill="#00009f" d="M1975 1129h10v11h-10zM2037 1129h10v11h-10z"/>
<path fill="#0000d2" d="M1985 1129h11v11h-11zM2026 1129h11v11h-11z"/>
<path fill="#00bdff" d="M1996 1129h10v11h-10zM2016 1129h10v11h-10z"/>
<path fill="#ccff33" d="M2006 1129h10v11h-10z"/>
<path fill="#0000b4" d="M1985 1140h11v11h-11zM2026 1140h11v11h-11z"/>
<path fill="#004cff" d="M1996 1140h10v11h-10zM2016 1140h10v11h-10z"/>
<path fill="#00faff" d="M2006 1140h10v11h-10z"/>
<path fill="#0000ca" d="M1996 1163h10v11h-10zM2016 1163h10v11h-10z"/>
<path fill="#000aff" d="M2006 1163h10v11h-10z"/>
<path fill="#0000b1" d="M1996 1174h10v11h-10zM2016 1174h10v11h-10z"/>
<path fill="#0000db" d="M2006 1174h10v11h-10z"/>
<path fill="#0000a2" d="M1996 1185h10v12h-10zM2016 1185h10v12h-10z"/>
<path fill="#000096" d="M1996 1197h10v11h-10zM2016 1197h10v11h-10z"/>
<path fill="#0000a8" d="M2006 1197h10v11h-10z"/>
<path fill="#00008d" d="M1996 1208h10v11h-10zM2016 1208h10v11h-10z"/>
<path fill="#000099" d="M2006 1208h10v11h-10z"/>
<path fill="#00008e" d="M2006 1219h10v12h-10z"/></g>
<path d="M1755.5 819.9h5M1755.5 838.8h5M1755.5 857.6h9M1755.5 876.5h5M1755.5 895.3h5M1755.5 914.2h5M1755.5 933.0h5M1755.5 951.9h5M1755.5 970.7h9M1755.5 989.6h5M1755.5 1008.4h5M1755.5 1027.3h5M1755.5 1046.1h5M1755.5 1065.0h5M1755.5 1083.8h9M1755.5 1102.7h5M1755.5 1121.5h5M1755.5 1140.4h5M1755.5 1159.2h5M1755.5 1178.0h5M1755.5 1196.9h9M1755.5 1215.7h5M1755.5 1234.6h5M1755.5 1253.4h5M1755.5 1272.3h5M1755.5 1291.1h5M1755.5 1310.0h9M1755.5 1328.8h5M1755.5 1347.7h5M1755.5 1366.5h5M1854.1 1383.9v-8.5M1932.6 1383.9v-8.5M2011.0 1383.9v-8.5M2089.5 1383.9v-8.5M2246.5 1383.9v-8.5M1893.3 1383.9v-4.5M1971.8 1383.9v-4.5M2050.3 1383.9v-4.5" stroke="#000018" stroke-width="1.6" fill="none"/>
<path d="M1815.20 1383.90V1017.80M2207.00 1383.90V1017.80" stroke="#000" stroke-width="2.20" fill="none"/>
<path d="M1814.10 1019.20H2005.50M2016.80 1019.20H2208.10" stroke="#000" stroke-width="2.80" fill="none"/>
<path d="M2004.40 830.60H2017.90" stroke="#000" stroke-width="2.60" fill="none"/>
<path d="M2005.50 868.20H2016.80" stroke="#000" stroke-width="2.20" fill="none"/>
<path d="M2005.50 1020.60V830.60M2016.80 1020.60V830.60" stroke="#000" stroke-width="2.20" fill="none"/>
<rect x="1815.20" y="1057.45" width="391.80" height="2.30" fill="#000"/>
<rect x="1815.20" y="1096.05" width="391.80" height="2.30" fill="#000"/>
<rect x="1815.20" y="1101.75" width="391.80" height="2.10" fill="#000"/>
<rect x="1815.20" y="1138.20" width="391.80" height="2.80" fill="#000"/>
<rect x="1815.20" y="1098.40" width="391.80" height="3.40" fill="#000" fill-opacity="0.55"/>
<rect x="1754.10" y="810.00" width="1.70" height="574.00" fill="#111"/>
<path d="M1755.40 795.80L1760.80 810.80L1750.00 810.80z" fill="#000"/>
<path d="M2286.20 1383.00L2270.80 1377.50L2270.80 1388.50z" fill="#000"/>
<text class="t" x="1743.70" y="831.60" font-size="46.35" text-anchor="end">3.4</text>
<text class="t" x="1743.70" y="892.90" font-size="46.35" text-anchor="end">3.1</text>
<text class="t" x="1743.70" y="960.50" font-size="46.35" text-anchor="end">2.8</text>
<text class="t" x="1743.70" y="1024.00" font-size="46.35" text-anchor="end">2.5</text>
<text class="t" x="1743.70" y="1087.40" font-size="46.35" text-anchor="end">2.2</text>
<text class="t" x="1743.70" y="1150.50" font-size="46.35" text-anchor="end">1.9</text>
<text class="t" x="1743.70" y="1216.00" font-size="46.35" text-anchor="end">1.6</text>
<text class="t" x="1743.70" y="1281.50" font-size="46.35" text-anchor="end">1.3</text>
<text class="t" x="1743.70" y="1347.10" font-size="46.35" text-anchor="end">1.0</text>
<text class="t" x="1743.70" y="1408.00" font-size="46.35" text-anchor="end">0.7</text>
<text class="t" transform="translate(1706.85 1445.44) scale(1.0122 1)" font-size="46.35">−10</text>
<text class="t" transform="translate(1818.33 1445.44) scale(0.9814 1)" font-size="46.35">10</text>
<text class="t" transform="translate(1910.29 1445.44) scale(1.0408 1)" font-size="46.35">30</text>
<text class="t" transform="translate(1995.37 1445.44) scale(1.0524 1)" font-size="46.35">50</text>
<text class="t" transform="translate(2085.52 1445.44) scale(1.0896 1)" font-size="46.35">70</text>
<text class="t" transform="translate(2183.28 1445.44) scale(1.0184 1)" font-size="46.35">90</text>
<text class="t" transform="translate(2260.24 1445.44) scale(1.0047 1)" font-size="46.35">110</text>
<text class="t" transform="translate(1869.70 1538.97) scale(0.9742 1)" font-size="61.99">y (microns)</text>
<text class="t" transform="translate(1627.34 1215.50) rotate(-90) scale(0.9887 1)" font-size="60.78">z (microns)</text>
<text class="t" transform="translate(1595.71 884.66) scale(1.0633 1)" font-size="52.09">(f)</text>
</g>
</svg>
</body></html>
